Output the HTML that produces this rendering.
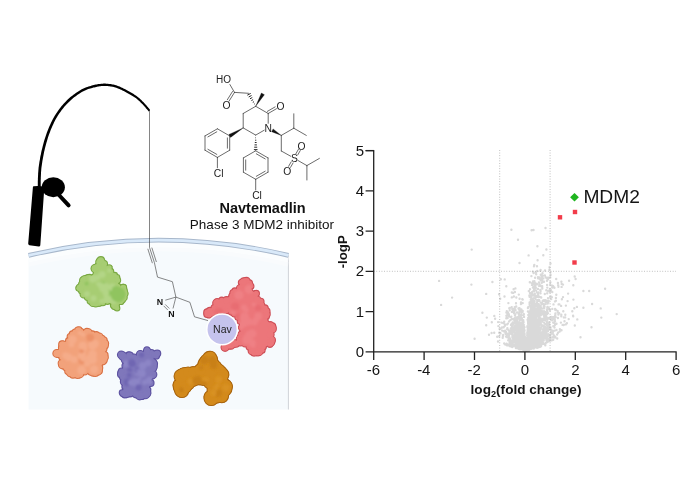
<!DOCTYPE html>
<html><head><meta charset="utf-8"><title>Navtemadlin MDM2 target fishing</title>
<style>
html,body{margin:0;padding:0;background:#fff;}
body{width:700px;height:484px;overflow:hidden;}
svg{display:block;font-family:"Liberation Sans",Arial,Helvetica,sans-serif;}
</style></head><body>
<svg width="700" height="484" viewBox="0 0 700 484">
<rect width="700" height="484" fill="#fff"/>
<path d="M28.6 255.3A570 570 0 0 1 288.4 255.3V409.5H28.6Z" fill="#f6fafd"/>
<path d="M288.4 255.3V409.5" stroke="#cfd3d8" stroke-width="1" fill="none"/>
<path d="M28.6 255.3A570 570 0 0 1 288.4 255.3" stroke="#fff" stroke-width="5" fill="none" opacity="0.6" transform="translate(0 4.6)"/>
<path d="M28.6 255.3A570 570 0 0 1 288.4 255.3" stroke="#fff" stroke-width="5" fill="none" opacity="0.3" transform="translate(0 9)"/>
<path d="M28.6 255.3A570 570 0 0 1 288.4 255.3" stroke="#a7b7cb" stroke-width="4.8" fill="none"/>
<path d="M28.6 255.3A570 570 0 0 1 288.4 255.3" stroke="#d9e9f9" stroke-width="2.9" fill="none"/>
<filter id="bl" x="-20%" y="-20%" width="140%" height="140%"><feGaussianBlur stdDeviation="0.9"/></filter>
<g fill="#79a842" stroke="#79a842" stroke-width="2.2" stroke-linejoin="round"><path d="M100.1 259.6L101.7 259.9L102.4 260.2L103.2 260.9L104.7 262.3L105.5 263.3L105.5 263.5L105.7 264.9L107 266.8L109.6 267.7L111.3 266.6L110.6 266.8L109.9 266.8L110.2 267.1L110.2 267.3L110.5 268.7L111.7 270.7L113 272.3L113.9 273L114.3 273.3L115.5 274.5L117 276.2L117.8 276.8L118 277.1L118.6 278.7L118.8 280.4L118.6 281.4L118.1 283.2L118.9 285.9L121.7 287.5L123.7 286.6L123.9 286.3L123.9 286.5L124.7 287.1L124.7 287.1L124.9 288L125.4 290.2L126 292.4L126.2 293.2L126.2 293.7L125.8 295.8L125.4 297.9L125.2 298.4L124.7 299L123.3 300.7L122.2 302L121.7 302.3L120.6 302.8L119.1 304.2L117.9 306.1L117.9 308L118.1 306.8L117.9 306.9L116.8 307.7L116.5 307.9L116.3 308L115.1 307.9L114 307.7L114.3 307.9L113.9 307.4L112.7 306.2L112.3 305.9L112.3 305.6L111 303.5L108.7 302.8L106.2 302.7L104.5 303.2L103.2 303.8L100.8 304.3L98 304.8L96.7 305.2L96.2 305.3L94.3 305L92.3 304.6L92.2 304.6L91.8 304.1L90.2 302.6L89.1 301.5L88.8 301.1L88.2 300L86.6 298.3L84.8 296.9L83.5 296.4L83.3 296.4L82.4 295.6L81.7 294.6L81.7 294.6L81.5 293.5L80.5 291.5L78.9 289.6L77.8 288.9L78 289.2L77.9 288.3L78.1 287.1L78.2 286.9L79.2 285.7L80.6 283.4L81.5 281L81.5 279.7L81.5 280L82.4 278.9L83.7 277.8L84.1 277.6L85.2 277.3L87.4 276.6L89 276.1L89.8 276.2L91.8 275.9L93.5 274.2L94.2 271.5L93.2 269.7L92.9 269.3L93 268.6L93.4 267.7L93.6 267.6L94.8 266.8L96.4 264.9L97.5 262.9L97.8 261.6L97.8 261.5L98.4 260.7L99.5 259.3L99.6 259L98.7 259.4Z"/><circle cx="99.8" cy="261.3" r="3"/><circle cx="101.2" cy="262.1" r="3.6"/><circle cx="104.1" cy="264" r="2.9"/><circle cx="107.6" cy="268.6" r="2.5"/><circle cx="109.1" cy="267.9" r="2.6"/><circle cx="110.7" cy="271.4" r="2.5"/><circle cx="114.7" cy="275.2" r="2.3"/><circle cx="117" cy="277.4" r="2.3"/><circle cx="117.4" cy="280.3" r="2.7"/><circle cx="117.8" cy="286.6" r="2.7"/><circle cx="123.2" cy="287.7" r="2.8"/><circle cx="123.3" cy="287.7" r="2.8"/><circle cx="124.4" cy="290.5" r="2.4"/><circle cx="124.4" cy="293.5" r="3.2"/><circle cx="123.3" cy="297.4" r="3.4"/><circle cx="122.2" cy="299.8" r="2.7"/><circle cx="120.7" cy="301.2" r="2.8"/><circle cx="117.1" cy="308.3" r="2.2"/><circle cx="115.9" cy="306.4" r="2.9"/><circle cx="114.3" cy="306.8" r="2.2"/><circle cx="113.2" cy="305.6" r="2.2"/><circle cx="107.4" cy="301.6" r="2.4"/><circle cx="102.8" cy="302.7" r="2.5"/><circle cx="99" cy="303.5" r="2.4"/><circle cx="95.7" cy="303.3" r="3.2"/><circle cx="92.9" cy="302.9" r="3.1"/><circle cx="90.5" cy="300.7" r="2.9"/><circle cx="87.5" cy="297.3" r="2.6"/><circle cx="83.8" cy="294.3" r="3.2"/><circle cx="81.3" cy="291.1" r="2.2"/><circle cx="78.6" cy="288.3" r="2.2"/><circle cx="80.2" cy="287.8" r="3.5"/><circle cx="82.5" cy="284.3" r="3.4"/><circle cx="83.3" cy="280.4" r="3.2"/><circle cx="84.9" cy="279.4" r="3.3"/><circle cx="87.7" cy="277.6" r="2.4"/><circle cx="89.6" cy="278.2" r="3.3"/><circle cx="95" cy="268.4" r="3.4"/><circle cx="95.3" cy="268.8" r="3.4"/><circle cx="97.3" cy="267.4" r="3.5"/><circle cx="99" cy="262.2" r="2.7"/><circle cx="100.9" cy="260.2" r="3"/></g>
<g fill="#a7cd73"><path d="M100.1 259.6L101.7 259.9L102.4 260.2L103.2 260.9L104.7 262.3L105.5 263.3L105.5 263.5L105.7 264.9L107 266.8L109.6 267.7L111.3 266.6L110.6 266.8L109.9 266.8L110.2 267.1L110.2 267.3L110.5 268.7L111.7 270.7L113 272.3L113.9 273L114.3 273.3L115.5 274.5L117 276.2L117.8 276.8L118 277.1L118.6 278.7L118.8 280.4L118.6 281.4L118.1 283.2L118.9 285.9L121.7 287.5L123.7 286.6L123.9 286.3L123.9 286.5L124.7 287.1L124.7 287.1L124.9 288L125.4 290.2L126 292.4L126.2 293.2L126.2 293.7L125.8 295.8L125.4 297.9L125.2 298.4L124.7 299L123.3 300.7L122.2 302L121.7 302.3L120.6 302.8L119.1 304.2L117.9 306.1L117.9 308L118.1 306.8L117.9 306.9L116.8 307.7L116.5 307.9L116.3 308L115.1 307.9L114 307.7L114.3 307.9L113.9 307.4L112.7 306.2L112.3 305.9L112.3 305.6L111 303.5L108.7 302.8L106.2 302.7L104.5 303.2L103.2 303.8L100.8 304.3L98 304.8L96.7 305.2L96.2 305.3L94.3 305L92.3 304.6L92.2 304.6L91.8 304.1L90.2 302.6L89.1 301.5L88.8 301.1L88.2 300L86.6 298.3L84.8 296.9L83.5 296.4L83.3 296.4L82.4 295.6L81.7 294.6L81.7 294.6L81.5 293.5L80.5 291.5L78.9 289.6L77.8 288.9L78 289.2L77.9 288.3L78.1 287.1L78.2 286.9L79.2 285.7L80.6 283.4L81.5 281L81.5 279.7L81.5 280L82.4 278.9L83.7 277.8L84.1 277.6L85.2 277.3L87.4 276.6L89 276.1L89.8 276.2L91.8 275.9L93.5 274.2L94.2 271.5L93.2 269.7L92.9 269.3L93 268.6L93.4 267.7L93.6 267.6L94.8 266.8L96.4 264.9L97.5 262.9L97.8 261.6L97.8 261.5L98.4 260.7L99.5 259.3L99.6 259L98.7 259.4Z"/><circle cx="99.8" cy="261.3" r="3"/><circle cx="101.2" cy="262.1" r="3.6"/><circle cx="104.1" cy="264" r="2.9"/><circle cx="107.6" cy="268.6" r="2.5"/><circle cx="109.1" cy="267.9" r="2.6"/><circle cx="110.7" cy="271.4" r="2.5"/><circle cx="114.7" cy="275.2" r="2.3"/><circle cx="117" cy="277.4" r="2.3"/><circle cx="117.4" cy="280.3" r="2.7"/><circle cx="117.8" cy="286.6" r="2.7"/><circle cx="123.2" cy="287.7" r="2.8"/><circle cx="123.3" cy="287.7" r="2.8"/><circle cx="124.4" cy="290.5" r="2.4"/><circle cx="124.4" cy="293.5" r="3.2"/><circle cx="123.3" cy="297.4" r="3.4"/><circle cx="122.2" cy="299.8" r="2.7"/><circle cx="120.7" cy="301.2" r="2.8"/><circle cx="117.1" cy="308.3" r="2.2"/><circle cx="115.9" cy="306.4" r="2.9"/><circle cx="114.3" cy="306.8" r="2.2"/><circle cx="113.2" cy="305.6" r="2.2"/><circle cx="107.4" cy="301.6" r="2.4"/><circle cx="102.8" cy="302.7" r="2.5"/><circle cx="99" cy="303.5" r="2.4"/><circle cx="95.7" cy="303.3" r="3.2"/><circle cx="92.9" cy="302.9" r="3.1"/><circle cx="90.5" cy="300.7" r="2.9"/><circle cx="87.5" cy="297.3" r="2.6"/><circle cx="83.8" cy="294.3" r="3.2"/><circle cx="81.3" cy="291.1" r="2.2"/><circle cx="78.6" cy="288.3" r="2.2"/><circle cx="80.2" cy="287.8" r="3.5"/><circle cx="82.5" cy="284.3" r="3.4"/><circle cx="83.3" cy="280.4" r="3.2"/><circle cx="84.9" cy="279.4" r="3.3"/><circle cx="87.7" cy="277.6" r="2.4"/><circle cx="89.6" cy="278.2" r="3.3"/><circle cx="95" cy="268.4" r="3.4"/><circle cx="95.3" cy="268.8" r="3.4"/><circle cx="97.3" cy="267.4" r="3.5"/><circle cx="99" cy="262.2" r="2.7"/><circle cx="100.9" cy="260.2" r="3"/></g>
<clipPath id="c9"><path d="M100.1 259.6L101.7 259.9L102.4 260.2L103.2 260.9L104.7 262.3L105.5 263.3L105.5 263.5L105.7 264.9L107 266.8L109.6 267.7L111.3 266.6L110.6 266.8L109.9 266.8L110.2 267.1L110.2 267.3L110.5 268.7L111.7 270.7L113 272.3L113.9 273L114.3 273.3L115.5 274.5L117 276.2L117.8 276.8L118 277.1L118.6 278.7L118.8 280.4L118.6 281.4L118.1 283.2L118.9 285.9L121.7 287.5L123.7 286.6L123.9 286.3L123.9 286.5L124.7 287.1L124.7 287.1L124.9 288L125.4 290.2L126 292.4L126.2 293.2L126.2 293.7L125.8 295.8L125.4 297.9L125.2 298.4L124.7 299L123.3 300.7L122.2 302L121.7 302.3L120.6 302.8L119.1 304.2L117.9 306.1L117.9 308L118.1 306.8L117.9 306.9L116.8 307.7L116.5 307.9L116.3 308L115.1 307.9L114 307.7L114.3 307.9L113.9 307.4L112.7 306.2L112.3 305.9L112.3 305.6L111 303.5L108.7 302.8L106.2 302.7L104.5 303.2L103.2 303.8L100.8 304.3L98 304.8L96.7 305.2L96.2 305.3L94.3 305L92.3 304.6L92.2 304.6L91.8 304.1L90.2 302.6L89.1 301.5L88.8 301.1L88.2 300L86.6 298.3L84.8 296.9L83.5 296.4L83.3 296.4L82.4 295.6L81.7 294.6L81.7 294.6L81.5 293.5L80.5 291.5L78.9 289.6L77.8 288.9L78 289.2L77.9 288.3L78.1 287.1L78.2 286.9L79.2 285.7L80.6 283.4L81.5 281L81.5 279.7L81.5 280L82.4 278.9L83.7 277.8L84.1 277.6L85.2 277.3L87.4 276.6L89 276.1L89.8 276.2L91.8 275.9L93.5 274.2L94.2 271.5L93.2 269.7L92.9 269.3L93 268.6L93.4 267.7L93.6 267.6L94.8 266.8L96.4 264.9L97.5 262.9L97.8 261.6L97.8 261.5L98.4 260.7L99.5 259.3L99.6 259L98.7 259.4Z"/></clipPath>
<g clip-path="url(#c9)"><g filter="url(#bl)"><circle cx="86.6" cy="283.6" r="1.9" fill="#90c45f"/><circle cx="109.9" cy="293.3" r="3.5" fill="#90c45f"/><circle cx="113.9" cy="301" r="3.1" fill="#b3d586"/><circle cx="98.5" cy="284" r="2.3" fill="#b3d586"/><circle cx="103.2" cy="285" r="3.2" fill="#90c45f"/><circle cx="112" cy="298.3" r="3.4" fill="#b3d586"/><circle cx="101.7" cy="301.2" r="2.3" fill="#b3d586"/><circle cx="112.2" cy="287.2" r="3.8" fill="#b3d586"/><circle cx="109.2" cy="270.6" r="2.2" fill="#b3d586"/><circle cx="105.7" cy="286.8" r="3.8" fill="#b3d586"/><circle cx="107.2" cy="300.6" r="3.6" fill="#b3d586"/><circle cx="97.5" cy="277.4" r="2.9" fill="#b3d586"/><circle cx="108.7" cy="300.8" r="2.3" fill="#b3d586"/><circle cx="103" cy="288.6" r="3.7" fill="#b3d586"/><circle cx="101.8" cy="286.5" r="2.9" fill="#b3d586"/><circle cx="105.8" cy="292.7" r="3.4" fill="#b3d586"/><circle cx="93.5" cy="298.3" r="3.1" fill="#b3d586"/><circle cx="102.1" cy="274.4" r="3.5" fill="#b3d586"/><circle cx="104.2" cy="289.3" r="2.6" fill="#b3d586"/><circle cx="87" cy="293.9" r="3" fill="#b3d586"/><circle cx="92.9" cy="278.7" r="3.9" fill="#b3d586"/><circle cx="100.8" cy="285.4" r="3" fill="#b3d586"/><circle cx="118" cy="294.5" r="7.5" fill="#90c45f"/><circle cx="116" cy="290" r="4" fill="#90c45f"/><circle cx="107" cy="298.5" r="3.5" fill="#b3d586"/></g></g>
<g fill="#d97144" stroke="#d97144" stroke-width="2.2" stroke-linejoin="round"><path d="M79.1 328.6L79.8 328.6L79.4 328.4L80.4 329.7L82.8 330.7L85.2 330.9L86.6 330.4L86.8 330.3L87.9 330.4L89.2 330.8L89.4 331L90.5 331.8L92.7 332.8L95 333.4L96.3 333.5L96.7 333.6L98.3 334.2L100.1 335.1L100.7 335.4L101.3 335.9L102.8 337.5L104.6 338.9L105.2 339.3L105.2 339.5L105.9 341.1L106.6 342.8L106.8 343.2L106.7 343.9L106.5 345.8L106.3 346.8L106.4 346.6L105.4 348L105 350.4L105.4 352.8L106.1 354.2L106.3 354.6L106.5 356.2L106.5 358.2L106.5 358.6L106.2 359.1L105.3 360.9L104.5 362.1L104.2 362.3L102.9 363.3L101.6 365.4L100.9 367.8L101.3 369.5L101.3 369.4L100.9 370.4L100 372.1L99.7 372.6L99.3 372.9L97.5 373.8L95.9 374.6L95.7 374.6L95.1 374.5L92.9 374.3L91.5 374L91.1 373.7L89.3 372.8L86.6 372.8L84.1 373.5L82.5 374.6L82 375.2L80.4 375.8L78.5 376.5L78 376.6L77.5 376.6L75.5 376.4L73.4 376.3L72.7 376.3L72.3 376.1L70.5 375.2L68.8 374.3L68.4 374.2L68.1 373.7L66.9 372.2L65.9 370.8L65.7 370.3L65.3 369.1L64 367.1L62.2 365.3L60.9 364.7L61 364.8L60.7 364.2L60.6 363.6L60.8 363.4L61.7 361.7L61.4 359L59.9 356.9L58.1 356.3L58.1 356.4L57.6 355.7L56.6 354.1L56.2 353.4L56.2 353L56.4 351.6L56.6 351L56.3 351.3L57.9 350.6L59.8 348.6L60.9 346.1L61 344.5L61 344.1L61.7 343.1L62.3 342.6L62.3 342.7L64.3 342.6L66.7 341L68.3 338.9L68.8 337.1L68.9 336.5L69.8 335L71.1 333.3L71.6 332.9L72.3 332.4L74.4 331.1L76.4 329.6L77.3 328.9L77.6 328.8Z"/><circle cx="79.1" cy="329.7" r="2.4"/><circle cx="81.1" cy="331.4" r="2.4"/><circle cx="86.9" cy="332" r="3.1"/><circle cx="88.5" cy="332.4" r="3.1"/><circle cx="92.4" cy="333.7" r="2.3"/><circle cx="96.3" cy="335.3" r="3.1"/><circle cx="99.2" cy="337" r="3.4"/><circle cx="101.9" cy="338.5" r="2.7"/><circle cx="104.2" cy="339.9" r="2.4"/><circle cx="104.9" cy="343.4" r="3.2"/><circle cx="105" cy="345.6" r="2.8"/><circle cx="103.9" cy="348.9" r="2.5"/><circle cx="105.1" cy="354.7" r="2.4"/><circle cx="104.7" cy="357.4" r="3.1"/><circle cx="104.2" cy="360.3" r="2.5"/><circle cx="102.9" cy="361.6" r="2.7"/><circle cx="99.3" cy="367.8" r="2.9"/><circle cx="99.1" cy="370.7" r="2.8"/><circle cx="97.6" cy="371.3" r="3.5"/><circle cx="95.4" cy="373.5" r="2.5"/><circle cx="93.1" cy="372.5" r="3.1"/><circle cx="91.1" cy="371.7" r="3"/><circle cx="84.8" cy="371.3" r="3.1"/><circle cx="79.8" cy="373.9" r="3.4"/><circle cx="77.6" cy="375" r="2.9"/><circle cx="73" cy="374.8" r="2.8"/><circle cx="70.4" cy="372.8" r="3.4"/><circle cx="68" cy="371.3" r="2.7"/><circle cx="66.2" cy="367.3" r="3"/><circle cx="61.8" cy="363.2" r="3.1"/><circle cx="62.6" cy="364.7" r="3.6"/><circle cx="62.1" cy="357.1" r="2.8"/><circle cx="58.9" cy="353.6" r="3.5"/><circle cx="57.2" cy="353.1" r="2.3"/><circle cx="56.8" cy="353.4" r="3.4"/><circle cx="61.6" cy="347.8" r="2.6"/><circle cx="63" cy="345" r="3.5"/><circle cx="62.1" cy="344.2" r="2.8"/><circle cx="68.6" cy="340.7" r="2.5"/><circle cx="70.1" cy="336.5" r="2.4"/><circle cx="72.3" cy="333.9" r="2.5"/><circle cx="75.2" cy="332.3" r="2.7"/><circle cx="77.7" cy="330" r="2.4"/></g>
<g fill="#f2a27b"><path d="M79.1 328.6L79.8 328.6L79.4 328.4L80.4 329.7L82.8 330.7L85.2 330.9L86.6 330.4L86.8 330.3L87.9 330.4L89.2 330.8L89.4 331L90.5 331.8L92.7 332.8L95 333.4L96.3 333.5L96.7 333.6L98.3 334.2L100.1 335.1L100.7 335.4L101.3 335.9L102.8 337.5L104.6 338.9L105.2 339.3L105.2 339.5L105.9 341.1L106.6 342.8L106.8 343.2L106.7 343.9L106.5 345.8L106.3 346.8L106.4 346.6L105.4 348L105 350.4L105.4 352.8L106.1 354.2L106.3 354.6L106.5 356.2L106.5 358.2L106.5 358.6L106.2 359.1L105.3 360.9L104.5 362.1L104.2 362.3L102.9 363.3L101.6 365.4L100.9 367.8L101.3 369.5L101.3 369.4L100.9 370.4L100 372.1L99.7 372.6L99.3 372.9L97.5 373.8L95.9 374.6L95.7 374.6L95.1 374.5L92.9 374.3L91.5 374L91.1 373.7L89.3 372.8L86.6 372.8L84.1 373.5L82.5 374.6L82 375.2L80.4 375.8L78.5 376.5L78 376.6L77.5 376.6L75.5 376.4L73.4 376.3L72.7 376.3L72.3 376.1L70.5 375.2L68.8 374.3L68.4 374.2L68.1 373.7L66.9 372.2L65.9 370.8L65.7 370.3L65.3 369.1L64 367.1L62.2 365.3L60.9 364.7L61 364.8L60.7 364.2L60.6 363.6L60.8 363.4L61.7 361.7L61.4 359L59.9 356.9L58.1 356.3L58.1 356.4L57.6 355.7L56.6 354.1L56.2 353.4L56.2 353L56.4 351.6L56.6 351L56.3 351.3L57.9 350.6L59.8 348.6L60.9 346.1L61 344.5L61 344.1L61.7 343.1L62.3 342.6L62.3 342.7L64.3 342.6L66.7 341L68.3 338.9L68.8 337.1L68.9 336.5L69.8 335L71.1 333.3L71.6 332.9L72.3 332.4L74.4 331.1L76.4 329.6L77.3 328.9L77.6 328.8Z"/><circle cx="79.1" cy="329.7" r="2.4"/><circle cx="81.1" cy="331.4" r="2.4"/><circle cx="86.9" cy="332" r="3.1"/><circle cx="88.5" cy="332.4" r="3.1"/><circle cx="92.4" cy="333.7" r="2.3"/><circle cx="96.3" cy="335.3" r="3.1"/><circle cx="99.2" cy="337" r="3.4"/><circle cx="101.9" cy="338.5" r="2.7"/><circle cx="104.2" cy="339.9" r="2.4"/><circle cx="104.9" cy="343.4" r="3.2"/><circle cx="105" cy="345.6" r="2.8"/><circle cx="103.9" cy="348.9" r="2.5"/><circle cx="105.1" cy="354.7" r="2.4"/><circle cx="104.7" cy="357.4" r="3.1"/><circle cx="104.2" cy="360.3" r="2.5"/><circle cx="102.9" cy="361.6" r="2.7"/><circle cx="99.3" cy="367.8" r="2.9"/><circle cx="99.1" cy="370.7" r="2.8"/><circle cx="97.6" cy="371.3" r="3.5"/><circle cx="95.4" cy="373.5" r="2.5"/><circle cx="93.1" cy="372.5" r="3.1"/><circle cx="91.1" cy="371.7" r="3"/><circle cx="84.8" cy="371.3" r="3.1"/><circle cx="79.8" cy="373.9" r="3.4"/><circle cx="77.6" cy="375" r="2.9"/><circle cx="73" cy="374.8" r="2.8"/><circle cx="70.4" cy="372.8" r="3.4"/><circle cx="68" cy="371.3" r="2.7"/><circle cx="66.2" cy="367.3" r="3"/><circle cx="61.8" cy="363.2" r="3.1"/><circle cx="62.6" cy="364.7" r="3.6"/><circle cx="62.1" cy="357.1" r="2.8"/><circle cx="58.9" cy="353.6" r="3.5"/><circle cx="57.2" cy="353.1" r="2.3"/><circle cx="56.8" cy="353.4" r="3.4"/><circle cx="61.6" cy="347.8" r="2.6"/><circle cx="63" cy="345" r="3.5"/><circle cx="62.1" cy="344.2" r="2.8"/><circle cx="68.6" cy="340.7" r="2.5"/><circle cx="70.1" cy="336.5" r="2.4"/><circle cx="72.3" cy="333.9" r="2.5"/><circle cx="75.2" cy="332.3" r="2.7"/><circle cx="77.7" cy="330" r="2.4"/></g>
<clipPath id="c13"><path d="M79.1 328.6L79.8 328.6L79.4 328.4L80.4 329.7L82.8 330.7L85.2 330.9L86.6 330.4L86.8 330.3L87.9 330.4L89.2 330.8L89.4 331L90.5 331.8L92.7 332.8L95 333.4L96.3 333.5L96.7 333.6L98.3 334.2L100.1 335.1L100.7 335.4L101.3 335.9L102.8 337.5L104.6 338.9L105.2 339.3L105.2 339.5L105.9 341.1L106.6 342.8L106.8 343.2L106.7 343.9L106.5 345.8L106.3 346.8L106.4 346.6L105.4 348L105 350.4L105.4 352.8L106.1 354.2L106.3 354.6L106.5 356.2L106.5 358.2L106.5 358.6L106.2 359.1L105.3 360.9L104.5 362.1L104.2 362.3L102.9 363.3L101.6 365.4L100.9 367.8L101.3 369.5L101.3 369.4L100.9 370.4L100 372.1L99.7 372.6L99.3 372.9L97.5 373.8L95.9 374.6L95.7 374.6L95.1 374.5L92.9 374.3L91.5 374L91.1 373.7L89.3 372.8L86.6 372.8L84.1 373.5L82.5 374.6L82 375.2L80.4 375.8L78.5 376.5L78 376.6L77.5 376.6L75.5 376.4L73.4 376.3L72.7 376.3L72.3 376.1L70.5 375.2L68.8 374.3L68.4 374.2L68.1 373.7L66.9 372.2L65.9 370.8L65.7 370.3L65.3 369.1L64 367.1L62.2 365.3L60.9 364.7L61 364.8L60.7 364.2L60.6 363.6L60.8 363.4L61.7 361.7L61.4 359L59.9 356.9L58.1 356.3L58.1 356.4L57.6 355.7L56.6 354.1L56.2 353.4L56.2 353L56.4 351.6L56.6 351L56.3 351.3L57.9 350.6L59.8 348.6L60.9 346.1L61 344.5L61 344.1L61.7 343.1L62.3 342.6L62.3 342.7L64.3 342.6L66.7 341L68.3 338.9L68.8 337.1L68.9 336.5L69.8 335L71.1 333.3L71.6 332.9L72.3 332.4L74.4 331.1L76.4 329.6L77.3 328.9L77.6 328.8Z"/></clipPath>
<g clip-path="url(#c13)"><g filter="url(#bl)"><circle cx="83.1" cy="334.6" r="2.2" fill="#f5ac89"/><circle cx="71.4" cy="344.4" r="2.8" fill="#f5ac89"/><circle cx="92.7" cy="345.2" r="4.5" fill="#f5ac89"/><circle cx="81.6" cy="370.2" r="4.4" fill="#f5ac89"/><circle cx="82.7" cy="348.1" r="4.2" fill="#f5ac89"/><circle cx="94.1" cy="369.5" r="4.2" fill="#f5ac89"/><circle cx="81.9" cy="348.3" r="2.4" fill="#ec9269"/><circle cx="82.2" cy="360.4" r="3.7" fill="#ec9269"/><circle cx="65.5" cy="355.6" r="3.3" fill="#f5ac89"/><circle cx="92.5" cy="359.5" r="4.5" fill="#f5ac89"/><circle cx="68.6" cy="357.2" r="3.8" fill="#f5ac89"/><circle cx="83.6" cy="358.2" r="3.3" fill="#f5ac89"/><circle cx="72.4" cy="339.5" r="4.3" fill="#f5ac89"/><circle cx="87.1" cy="363.6" r="3.2" fill="#f5ac89"/><circle cx="94.7" cy="343.6" r="4.2" fill="#f5ac89"/><circle cx="92.6" cy="354.4" r="4.4" fill="#f5ac89"/><circle cx="74.2" cy="359.6" r="3.5" fill="#f5ac89"/><circle cx="90.8" cy="358.4" r="4.3" fill="#f5ac89"/><circle cx="65" cy="355.7" r="2" fill="#f5ac89"/><circle cx="81.5" cy="355.4" r="3.6" fill="#f5ac89"/><circle cx="90.2" cy="337.6" r="3.9" fill="#ec9269"/><circle cx="73" cy="340.4" r="2.2" fill="#f5ac89"/><circle cx="83.5" cy="354" r="2.4" fill="#f5ac89"/><circle cx="79.8" cy="332.9" r="2.1" fill="#f5ac89"/><circle cx="81.6" cy="350.9" r="2.4" fill="#ec9269"/><circle cx="82.8" cy="345.8" r="4" fill="#f5ac89"/></g></g>
<g fill="#5d52a0" stroke="#5d52a0" stroke-width="2.2" stroke-linejoin="round"><path d="M121.9 354.2L121.9 354.1L121.5 354L122.9 354.8L125.4 355.2L127.7 354.5L128.8 353.6L128.5 353.7L129.4 353.7L130.6 354L131.3 354.5L132.9 355.5L135.5 355.9L138 355L139 353L139 352.8L139.2 352.8L139.7 352.6L139.7 352.6L141.4 352.8L143.6 352L145.6 350.4L146.4 348.9L146.4 348.6L146.6 348.6L146.7 348.5L146.1 348.2L146.9 349.3L148.9 350.6L150.6 351.3L151.6 351.4L151.9 351.5L153.3 352.1L155.1 352.9L156.1 353.2L156.4 353.4L157.1 354.3L157.7 355.2L157.7 354.8L157.7 354.5L157.1 355.4L157.5 355.2L157.2 355.1L155.1 355.3L153.5 357.8L153.8 360.2L154.8 361.5L155.3 362.1L155.7 363.5L155.9 365.3L155.9 365.9L155.6 366.5L155 368.3L154.6 369.2L154.7 369.1L153.5 370.2L152.8 372.2L152.8 374.5L153.4 375.9L153.6 376.1L153.5 376.5L153.5 376.7L153.7 376.5L152.4 377.3L151.4 379.4L151.4 381.7L152.3 382.9L152.2 382.6L152.1 382.8L152 383.1L151.8 383.2L150.4 384.2L149.3 386.3L148.8 388.6L149.2 390.1L149.3 390.4L149.2 391.7L148.9 393.7L148.8 394.4L148.7 394.5L147.6 395.6L146.5 396.7L146.4 396.7L145.6 396.8L143.5 397.3L141.5 397.9L140.9 398.2L140.8 398.2L139.3 398L138.2 397.7L138.2 397.7L137.3 396.8L135.4 395.9L133.8 395.4L132.8 395.1L131.7 395L130.2 395L128.3 395.3L127.1 395.7L127.1 395.8L126.1 395.8L124.4 395.7L124 395.7L124 395.7L123 394.8L121.8 393.8L121.6 393.6L121.6 393.5L121.5 392.2L121.6 391.7L121.7 391.7L123 390.4L123.7 388L123.7 385.7L123.1 384.2L122.6 383.4L122.2 382.2L122 380.9L122 380.5L121.9 379.3L121.4 377.6L120.3 375.7L119.2 374.8L119.5 375.2L119.4 374.5L119.3 373.2L119.3 373L119.7 372.3L120.6 370.7L121.1 369.9L121.2 369.9L122.8 368.8L123.7 366.6L124 364.5L123.9 362.7L123.5 361.3L122.9 359.6L121.8 357.4L120.4 356.4L120.8 356.9L120.8 356.6L120.9 355.2L120.9 354.8L121 354.8Z"/><circle cx="122.9" cy="356.2" r="3.6"/><circle cx="123.9" cy="357" r="3.2"/><circle cx="128.7" cy="354.9" r="2.5"/><circle cx="129.8" cy="355.6" r="3"/><circle cx="134" cy="357.3" r="2.7"/><circle cx="140.3" cy="354.5" r="3.4"/><circle cx="140.3" cy="353.8" r="2.3"/><circle cx="147.2" cy="351.6" r="3.4"/><circle cx="146.9" cy="349.8" r="2.5"/><circle cx="147.2" cy="350.9" r="2.4"/><circle cx="151.5" cy="352.6" r="2.5"/><circle cx="154.5" cy="354.7" r="3.2"/><circle cx="156.2" cy="355.7" r="2.8"/><circle cx="157.2" cy="353.6" r="3"/><circle cx="153.4" cy="361.8" r="2.5"/><circle cx="154" cy="363.8" r="3"/><circle cx="153.7" cy="366.7" r="3.1"/><circle cx="153.4" cy="368.4" r="2.6"/><circle cx="152" cy="375.9" r="2.5"/><circle cx="152.9" cy="374.5" r="3.4"/><circle cx="150.6" cy="382.9" r="2.9"/><circle cx="149.4" cy="383.3" r="2.6"/><circle cx="147.9" cy="389.8" r="2.4"/><circle cx="147.7" cy="392.6" r="2.6"/><circle cx="146.7" cy="393.4" r="3.5"/><circle cx="145.5" cy="394.9" r="3.3"/><circle cx="142" cy="396.7" r="2.3"/><circle cx="139.7" cy="395.7" r="3.6"/><circle cx="135.9" cy="394.3" r="3"/><circle cx="130.2" cy="393.1" r="3.2"/><circle cx="126.8" cy="394.1" r="3"/><circle cx="124.9" cy="394.5" r="2.8"/><circle cx="123.1" cy="393.3" r="2.8"/><circle cx="122.1" cy="392.6" r="2.3"/><circle cx="124.7" cy="386.7" r="2.3"/><circle cx="124.3" cy="381.7" r="3.4"/><circle cx="123" cy="377" r="3"/><circle cx="120.6" cy="374.4" r="2.5"/><circle cx="121.2" cy="373.2" r="3"/><circle cx="121.6" cy="371.3" r="2.7"/><circle cx="125.2" cy="365.7" r="2.7"/><circle cx="125" cy="360" r="3.1"/><circle cx="121.2" cy="354.8" r="3.2"/><circle cx="122.4" cy="355.5" r="3"/></g>
<g fill="#7f77bb"><path d="M121.9 354.2L121.9 354.1L121.5 354L122.9 354.8L125.4 355.2L127.7 354.5L128.8 353.6L128.5 353.7L129.4 353.7L130.6 354L131.3 354.5L132.9 355.5L135.5 355.9L138 355L139 353L139 352.8L139.2 352.8L139.7 352.6L139.7 352.6L141.4 352.8L143.6 352L145.6 350.4L146.4 348.9L146.4 348.6L146.6 348.6L146.7 348.5L146.1 348.2L146.9 349.3L148.9 350.6L150.6 351.3L151.6 351.4L151.9 351.5L153.3 352.1L155.1 352.9L156.1 353.2L156.4 353.4L157.1 354.3L157.7 355.2L157.7 354.8L157.7 354.5L157.1 355.4L157.5 355.2L157.2 355.1L155.1 355.3L153.5 357.8L153.8 360.2L154.8 361.5L155.3 362.1L155.7 363.5L155.9 365.3L155.9 365.9L155.6 366.5L155 368.3L154.6 369.2L154.7 369.1L153.5 370.2L152.8 372.2L152.8 374.5L153.4 375.9L153.6 376.1L153.5 376.5L153.5 376.7L153.7 376.5L152.4 377.3L151.4 379.4L151.4 381.7L152.3 382.9L152.2 382.6L152.1 382.8L152 383.1L151.8 383.2L150.4 384.2L149.3 386.3L148.8 388.6L149.2 390.1L149.3 390.4L149.2 391.7L148.9 393.7L148.8 394.4L148.7 394.5L147.6 395.6L146.5 396.7L146.4 396.7L145.6 396.8L143.5 397.3L141.5 397.9L140.9 398.2L140.8 398.2L139.3 398L138.2 397.7L138.2 397.7L137.3 396.8L135.4 395.9L133.8 395.4L132.8 395.1L131.7 395L130.2 395L128.3 395.3L127.1 395.7L127.1 395.8L126.1 395.8L124.4 395.7L124 395.7L124 395.7L123 394.8L121.8 393.8L121.6 393.6L121.6 393.5L121.5 392.2L121.6 391.7L121.7 391.7L123 390.4L123.7 388L123.7 385.7L123.1 384.2L122.6 383.4L122.2 382.2L122 380.9L122 380.5L121.9 379.3L121.4 377.6L120.3 375.7L119.2 374.8L119.5 375.2L119.4 374.5L119.3 373.2L119.3 373L119.7 372.3L120.6 370.7L121.1 369.9L121.2 369.9L122.8 368.8L123.7 366.6L124 364.5L123.9 362.7L123.5 361.3L122.9 359.6L121.8 357.4L120.4 356.4L120.8 356.9L120.8 356.6L120.9 355.2L120.9 354.8L121 354.8Z"/><circle cx="122.9" cy="356.2" r="3.6"/><circle cx="123.9" cy="357" r="3.2"/><circle cx="128.7" cy="354.9" r="2.5"/><circle cx="129.8" cy="355.6" r="3"/><circle cx="134" cy="357.3" r="2.7"/><circle cx="140.3" cy="354.5" r="3.4"/><circle cx="140.3" cy="353.8" r="2.3"/><circle cx="147.2" cy="351.6" r="3.4"/><circle cx="146.9" cy="349.8" r="2.5"/><circle cx="147.2" cy="350.9" r="2.4"/><circle cx="151.5" cy="352.6" r="2.5"/><circle cx="154.5" cy="354.7" r="3.2"/><circle cx="156.2" cy="355.7" r="2.8"/><circle cx="157.2" cy="353.6" r="3"/><circle cx="153.4" cy="361.8" r="2.5"/><circle cx="154" cy="363.8" r="3"/><circle cx="153.7" cy="366.7" r="3.1"/><circle cx="153.4" cy="368.4" r="2.6"/><circle cx="152" cy="375.9" r="2.5"/><circle cx="152.9" cy="374.5" r="3.4"/><circle cx="150.6" cy="382.9" r="2.9"/><circle cx="149.4" cy="383.3" r="2.6"/><circle cx="147.9" cy="389.8" r="2.4"/><circle cx="147.7" cy="392.6" r="2.6"/><circle cx="146.7" cy="393.4" r="3.5"/><circle cx="145.5" cy="394.9" r="3.3"/><circle cx="142" cy="396.7" r="2.3"/><circle cx="139.7" cy="395.7" r="3.6"/><circle cx="135.9" cy="394.3" r="3"/><circle cx="130.2" cy="393.1" r="3.2"/><circle cx="126.8" cy="394.1" r="3"/><circle cx="124.9" cy="394.5" r="2.8"/><circle cx="123.1" cy="393.3" r="2.8"/><circle cx="122.1" cy="392.6" r="2.3"/><circle cx="124.7" cy="386.7" r="2.3"/><circle cx="124.3" cy="381.7" r="3.4"/><circle cx="123" cy="377" r="3"/><circle cx="120.6" cy="374.4" r="2.5"/><circle cx="121.2" cy="373.2" r="3"/><circle cx="121.6" cy="371.3" r="2.7"/><circle cx="125.2" cy="365.7" r="2.7"/><circle cx="125" cy="360" r="3.1"/><circle cx="121.2" cy="354.8" r="3.2"/><circle cx="122.4" cy="355.5" r="3"/></g>
<clipPath id="c17"><path d="M121.9 354.2L121.9 354.1L121.5 354L122.9 354.8L125.4 355.2L127.7 354.5L128.8 353.6L128.5 353.7L129.4 353.7L130.6 354L131.3 354.5L132.9 355.5L135.5 355.9L138 355L139 353L139 352.8L139.2 352.8L139.7 352.6L139.7 352.6L141.4 352.8L143.6 352L145.6 350.4L146.4 348.9L146.4 348.6L146.6 348.6L146.7 348.5L146.1 348.2L146.9 349.3L148.9 350.6L150.6 351.3L151.6 351.4L151.9 351.5L153.3 352.1L155.1 352.9L156.1 353.2L156.4 353.4L157.1 354.3L157.7 355.2L157.7 354.8L157.7 354.5L157.1 355.4L157.5 355.2L157.2 355.1L155.1 355.3L153.5 357.8L153.8 360.2L154.8 361.5L155.3 362.1L155.7 363.5L155.9 365.3L155.9 365.9L155.6 366.5L155 368.3L154.6 369.2L154.7 369.1L153.5 370.2L152.8 372.2L152.8 374.5L153.4 375.9L153.6 376.1L153.5 376.5L153.5 376.7L153.7 376.5L152.4 377.3L151.4 379.4L151.4 381.7L152.3 382.9L152.2 382.6L152.1 382.8L152 383.1L151.8 383.2L150.4 384.2L149.3 386.3L148.8 388.6L149.2 390.1L149.3 390.4L149.2 391.7L148.9 393.7L148.8 394.4L148.7 394.5L147.6 395.6L146.5 396.7L146.4 396.7L145.6 396.8L143.5 397.3L141.5 397.9L140.9 398.2L140.8 398.2L139.3 398L138.2 397.7L138.2 397.7L137.3 396.8L135.4 395.9L133.8 395.4L132.8 395.1L131.7 395L130.2 395L128.3 395.3L127.1 395.7L127.1 395.8L126.1 395.8L124.4 395.7L124 395.7L124 395.7L123 394.8L121.8 393.8L121.6 393.6L121.6 393.5L121.5 392.2L121.6 391.7L121.7 391.7L123 390.4L123.7 388L123.7 385.7L123.1 384.2L122.6 383.4L122.2 382.2L122 380.9L122 380.5L121.9 379.3L121.4 377.6L120.3 375.7L119.2 374.8L119.5 375.2L119.4 374.5L119.3 373.2L119.3 373L119.7 372.3L120.6 370.7L121.1 369.9L121.2 369.9L122.8 368.8L123.7 366.6L124 364.5L123.9 362.7L123.5 361.3L122.9 359.6L121.8 357.4L120.4 356.4L120.8 356.9L120.8 356.6L120.9 355.2L120.9 354.8L121 354.8Z"/></clipPath>
<g clip-path="url(#c17)"><g filter="url(#bl)"><circle cx="136.6" cy="383.4" r="3.8" fill="#8c85c6"/><circle cx="129.1" cy="375.2" r="2.4" fill="#6f66b2"/><circle cx="130.8" cy="366.4" r="2.8" fill="#8c85c6"/><circle cx="129.7" cy="369.1" r="2.7" fill="#6f66b2"/><circle cx="137" cy="369.7" r="2.5" fill="#6f66b2"/><circle cx="135.2" cy="381.7" r="3.4" fill="#8c85c6"/><circle cx="127.6" cy="382.2" r="3.9" fill="#6f66b2"/><circle cx="137.5" cy="372.4" r="2.3" fill="#8c85c6"/><circle cx="144.7" cy="382.2" r="2.7" fill="#8c85c6"/><circle cx="131.1" cy="382.6" r="3.1" fill="#8c85c6"/><circle cx="150" cy="380.6" r="4" fill="#8c85c6"/><circle cx="126.3" cy="364" r="3.8" fill="#8c85c6"/><circle cx="140.8" cy="374.2" r="2.4" fill="#6f66b2"/><circle cx="141.6" cy="354.8" r="2.6" fill="#6f66b2"/><circle cx="137.8" cy="372.6" r="3.5" fill="#8c85c6"/><circle cx="133.9" cy="362.1" r="2.6" fill="#8c85c6"/><circle cx="149.9" cy="380.5" r="2.9" fill="#8c85c6"/><circle cx="137.1" cy="371.6" r="1.9" fill="#6f66b2"/><circle cx="148.2" cy="362.9" r="3.3" fill="#8c85c6"/><circle cx="142.7" cy="365.9" r="3.8" fill="#8c85c6"/><circle cx="130.1" cy="365.8" r="2" fill="#8c85c6"/><circle cx="141.9" cy="373.3" r="3.9" fill="#8c85c6"/><circle cx="139.6" cy="378.9" r="1.8" fill="#8c85c6"/><circle cx="138.4" cy="372" r="1.9" fill="#8c85c6"/><circle cx="138.6" cy="387.4" r="3.1" fill="#6f66b2"/><circle cx="132" cy="363.2" r="3.9" fill="#6f66b2"/></g></g>
<g fill="#cd4f57" stroke="#cd4f57" stroke-width="2.2" stroke-linejoin="round"><path d="M245.2 279.5L247.2 279.4L247.4 279.4L247.8 279.7L249.4 281.3L250.8 282.7L251.1 283.3L251.3 284.2L251.8 286.2L251.9 287L252 286.7L251.2 288.7L252.3 291L254.4 292.4L256.2 292.6L256.7 292.6L257.1 293L257.4 293.3L257.3 293.3L257 295.1L257.9 297.6L259.5 299.4L261.2 300.1L261.5 300.2L261.9 300.6L262.2 301L262.1 300.5L261.9 302.3L262.8 304.4L264.4 306.2L265.6 306.9L265.8 307L266.7 308.3L267.8 310.2L268.1 311L268.2 311.9L268.4 314.2L268.3 315.8L267.9 316.3L267.1 318.2L267.6 320.9L269.5 323.1L271.5 323.6L272 323.6L272.8 324.3L274 325.8L274.3 326.2L274.3 326.7L274.3 328.8L274.1 330.2L273.9 330.4L272.9 331.8L272.3 334.5L272.5 337.3L273.3 338.8L273.4 338.9L273.3 340.3L273 342.5L272.9 343.2L272.6 343.5L271.1 344.9L270.1 345.5L269.8 345.5L267.9 345.5L265.3 346.8L263.4 348.9L263.1 350.8L263.2 350.8L262.2 351.7L260.5 353.2L259.8 353.8L259 354L256.6 354.2L254.2 354.3L253.5 354.3L252.9 353.9L251.2 352.6L250.3 351.9L250.4 352L250.1 350.1L248.4 347.9L246.8 346.4L245.4 345.4L243.7 344.8L241.4 344.4L239.1 344.1L237.3 344.4L236.2 344.9L234.6 345.5L232.3 346.4L231.2 347.3L231.5 347.2L230.3 347.3L228.4 347.3L227.7 347.1L227.1 346.8L225.6 345.7L223.6 344.6L222.8 344.2L223.1 346.2L223.6 345.9L224.7 345.4L226.5 345.4L229.6 345L233.3 343.4L236.1 341.4L237.7 339.6L238.3 337.9L239.1 335.5L240.1 333.1L240.6 331.4L240.5 329.9L240.2 327.7L240.1 325.3L239.9 323.7L239.2 322L238 319.9L236.8 317.8L235.8 316.4L234.4 315.4L232.3 314.3L230.6 313.1L229.2 312.3L227.3 312L224.4 312L221.1 312.2L218.9 312.6L217.1 313.2L214.1 314L210.8 315.1L209.3 316L209.3 316.1L208.1 316L206.4 315.6L206.3 315.6L206.2 315.3L205.9 313.7L205.6 312.3L205.5 312.6L205.8 312.3L207.3 310.7L208.5 309.6L209.4 309.3L211.1 308.5L213.2 306.7L214.7 304.2L214.7 302.2L214.6 302.5L215.2 301.8L216.4 300.7L216.6 300.5L217.6 300.3L220.1 299.5L222.3 298.9L223.6 298.9L225.8 298.7L228.5 297.2L230.9 295.2L231.6 293.1L231.7 292.4L232.8 291.1L234.3 289.8L235.1 289.5L236.7 288.9L238.7 287.1L240.2 284.7L240.2 282.7L240.1 282.9L240.7 282.2L242.1 280.6L242.7 280L243.2 279.8Z"/><circle cx="245.4" cy="281.8" r="3.5"/><circle cx="246.5" cy="281.1" r="3.2"/><circle cx="249.3" cy="283.1" r="2.7"/><circle cx="249.5" cy="285.6" r="3.3"/><circle cx="251" cy="286.2" r="2.4"/><circle cx="256.2" cy="293.6" r="2.4"/><circle cx="256.1" cy="293.6" r="2.7"/><circle cx="257.1" cy="300" r="3.4"/><circle cx="260.8" cy="301.5" r="2.7"/><circle cx="261.3" cy="305.4" r="3.1"/><circle cx="264.9" cy="308.2" r="2.8"/><circle cx="266.5" cy="311.3" r="3"/><circle cx="267.2" cy="314.2" r="2.5"/><circle cx="266.6" cy="316.5" r="2.3"/><circle cx="270.3" cy="325.5" r="3.3"/><circle cx="272.5" cy="326" r="2.6"/><circle cx="272.1" cy="327.5" r="3.5"/><circle cx="272.2" cy="329" r="3.6"/><circle cx="270.2" cy="334.4" r="3.4"/><circle cx="271.8" cy="339.9" r="3.1"/><circle cx="271.5" cy="341.3" r="3"/><circle cx="270.5" cy="342.5" r="3.5"/><circle cx="269.9" cy="344.3" r="2.5"/><circle cx="263.5" cy="347.1" r="2.3"/><circle cx="262.2" cy="350.3" r="2.4"/><circle cx="259.3" cy="351.9" r="3.1"/><circle cx="257.9" cy="353" r="2.4"/><circle cx="255" cy="352.2" r="3.3"/><circle cx="253.5" cy="353.1" r="2.3"/><circle cx="251.9" cy="350.9" r="3.2"/><circle cx="249.6" cy="346.7" r="3"/><circle cx="245.1" cy="343.2" r="3.2"/><circle cx="240.4" cy="342.1" r="3.4"/><circle cx="233.9" cy="343.5" r="3.4"/><circle cx="231" cy="345.2" r="3.4"/><circle cx="228.3" cy="345.6" r="2.9"/><circle cx="225.3" cy="343.6" r="3"/><circle cx="225.1" cy="347.3" r="3.5"/><circle cx="224.9" cy="347" r="2.9"/><circle cx="229.8" cy="346" r="2.3"/><circle cx="236" cy="343.7" r="3"/><circle cx="240" cy="338.3" r="3.1"/><circle cx="241.3" cy="334.8" r="3"/><circle cx="242" cy="327.6" r="3.1"/><circle cx="240" cy="321.6" r="2.2"/><circle cx="237.9" cy="317.2" r="2.5"/><circle cx="234.2" cy="313.8" r="2.7"/><circle cx="231.1" cy="312.3" r="2.3"/><circle cx="226.1" cy="310.8" r="2.5"/><circle cx="222.5" cy="310" r="3.3"/><circle cx="218.6" cy="311.5" r="2.5"/><circle cx="215.4" cy="312" r="2.9"/><circle cx="211.7" cy="313" r="2.9"/><circle cx="209.2" cy="314.9" r="2.5"/><circle cx="206.7" cy="314.6" r="2.3"/><circle cx="207.3" cy="312.4" r="3"/><circle cx="207.7" cy="312.7" r="3"/><circle cx="209.9" cy="310.8" r="2.9"/><circle cx="214.1" cy="307.5" r="2.5"/><circle cx="216.5" cy="303.1" r="3.3"/><circle cx="217.2" cy="301.6" r="2.6"/><circle cx="221.7" cy="300.1" r="2.4"/><circle cx="226.4" cy="300.5" r="3.3"/><circle cx="232.1" cy="296.1" r="2.8"/><circle cx="233.4" cy="293" r="3"/><circle cx="234.8" cy="290.6" r="2.2"/><circle cx="240.3" cy="288.5" r="3.4"/><circle cx="241.3" cy="282.5" r="2.4"/><circle cx="243" cy="282.6" r="3.3"/><circle cx="243.6" cy="281.6" r="3.2"/></g>
<g fill="#ec767a"><path d="M245.2 279.5L247.2 279.4L247.4 279.4L247.8 279.7L249.4 281.3L250.8 282.7L251.1 283.3L251.3 284.2L251.8 286.2L251.9 287L252 286.7L251.2 288.7L252.3 291L254.4 292.4L256.2 292.6L256.7 292.6L257.1 293L257.4 293.3L257.3 293.3L257 295.1L257.9 297.6L259.5 299.4L261.2 300.1L261.5 300.2L261.9 300.6L262.2 301L262.1 300.5L261.9 302.3L262.8 304.4L264.4 306.2L265.6 306.9L265.8 307L266.7 308.3L267.8 310.2L268.1 311L268.2 311.9L268.4 314.2L268.3 315.8L267.9 316.3L267.1 318.2L267.6 320.9L269.5 323.1L271.5 323.6L272 323.6L272.8 324.3L274 325.8L274.3 326.2L274.3 326.7L274.3 328.8L274.1 330.2L273.9 330.4L272.9 331.8L272.3 334.5L272.5 337.3L273.3 338.8L273.4 338.9L273.3 340.3L273 342.5L272.9 343.2L272.6 343.5L271.1 344.9L270.1 345.5L269.8 345.5L267.9 345.5L265.3 346.8L263.4 348.9L263.1 350.8L263.2 350.8L262.2 351.7L260.5 353.2L259.8 353.8L259 354L256.6 354.2L254.2 354.3L253.5 354.3L252.9 353.9L251.2 352.6L250.3 351.9L250.4 352L250.1 350.1L248.4 347.9L246.8 346.4L245.4 345.4L243.7 344.8L241.4 344.4L239.1 344.1L237.3 344.4L236.2 344.9L234.6 345.5L232.3 346.4L231.2 347.3L231.5 347.2L230.3 347.3L228.4 347.3L227.7 347.1L227.1 346.8L225.6 345.7L223.6 344.6L222.8 344.2L223.1 346.2L223.6 345.9L224.7 345.4L226.5 345.4L229.6 345L233.3 343.4L236.1 341.4L237.7 339.6L238.3 337.9L239.1 335.5L240.1 333.1L240.6 331.4L240.5 329.9L240.2 327.7L240.1 325.3L239.9 323.7L239.2 322L238 319.9L236.8 317.8L235.8 316.4L234.4 315.4L232.3 314.3L230.6 313.1L229.2 312.3L227.3 312L224.4 312L221.1 312.2L218.9 312.6L217.1 313.2L214.1 314L210.8 315.1L209.3 316L209.3 316.1L208.1 316L206.4 315.6L206.3 315.6L206.2 315.3L205.9 313.7L205.6 312.3L205.5 312.6L205.8 312.3L207.3 310.7L208.5 309.6L209.4 309.3L211.1 308.5L213.2 306.7L214.7 304.2L214.7 302.2L214.6 302.5L215.2 301.8L216.4 300.7L216.6 300.5L217.6 300.3L220.1 299.5L222.3 298.9L223.6 298.9L225.8 298.7L228.5 297.2L230.9 295.2L231.6 293.1L231.7 292.4L232.8 291.1L234.3 289.8L235.1 289.5L236.7 288.9L238.7 287.1L240.2 284.7L240.2 282.7L240.1 282.9L240.7 282.2L242.1 280.6L242.7 280L243.2 279.8Z"/><circle cx="245.4" cy="281.8" r="3.5"/><circle cx="246.5" cy="281.1" r="3.2"/><circle cx="249.3" cy="283.1" r="2.7"/><circle cx="249.5" cy="285.6" r="3.3"/><circle cx="251" cy="286.2" r="2.4"/><circle cx="256.2" cy="293.6" r="2.4"/><circle cx="256.1" cy="293.6" r="2.7"/><circle cx="257.1" cy="300" r="3.4"/><circle cx="260.8" cy="301.5" r="2.7"/><circle cx="261.3" cy="305.4" r="3.1"/><circle cx="264.9" cy="308.2" r="2.8"/><circle cx="266.5" cy="311.3" r="3"/><circle cx="267.2" cy="314.2" r="2.5"/><circle cx="266.6" cy="316.5" r="2.3"/><circle cx="270.3" cy="325.5" r="3.3"/><circle cx="272.5" cy="326" r="2.6"/><circle cx="272.1" cy="327.5" r="3.5"/><circle cx="272.2" cy="329" r="3.6"/><circle cx="270.2" cy="334.4" r="3.4"/><circle cx="271.8" cy="339.9" r="3.1"/><circle cx="271.5" cy="341.3" r="3"/><circle cx="270.5" cy="342.5" r="3.5"/><circle cx="269.9" cy="344.3" r="2.5"/><circle cx="263.5" cy="347.1" r="2.3"/><circle cx="262.2" cy="350.3" r="2.4"/><circle cx="259.3" cy="351.9" r="3.1"/><circle cx="257.9" cy="353" r="2.4"/><circle cx="255" cy="352.2" r="3.3"/><circle cx="253.5" cy="353.1" r="2.3"/><circle cx="251.9" cy="350.9" r="3.2"/><circle cx="249.6" cy="346.7" r="3"/><circle cx="245.1" cy="343.2" r="3.2"/><circle cx="240.4" cy="342.1" r="3.4"/><circle cx="233.9" cy="343.5" r="3.4"/><circle cx="231" cy="345.2" r="3.4"/><circle cx="228.3" cy="345.6" r="2.9"/><circle cx="225.3" cy="343.6" r="3"/><circle cx="225.1" cy="347.3" r="3.5"/><circle cx="224.9" cy="347" r="2.9"/><circle cx="229.8" cy="346" r="2.3"/><circle cx="236" cy="343.7" r="3"/><circle cx="240" cy="338.3" r="3.1"/><circle cx="241.3" cy="334.8" r="3"/><circle cx="242" cy="327.6" r="3.1"/><circle cx="240" cy="321.6" r="2.2"/><circle cx="237.9" cy="317.2" r="2.5"/><circle cx="234.2" cy="313.8" r="2.7"/><circle cx="231.1" cy="312.3" r="2.3"/><circle cx="226.1" cy="310.8" r="2.5"/><circle cx="222.5" cy="310" r="3.3"/><circle cx="218.6" cy="311.5" r="2.5"/><circle cx="215.4" cy="312" r="2.9"/><circle cx="211.7" cy="313" r="2.9"/><circle cx="209.2" cy="314.9" r="2.5"/><circle cx="206.7" cy="314.6" r="2.3"/><circle cx="207.3" cy="312.4" r="3"/><circle cx="207.7" cy="312.7" r="3"/><circle cx="209.9" cy="310.8" r="2.9"/><circle cx="214.1" cy="307.5" r="2.5"/><circle cx="216.5" cy="303.1" r="3.3"/><circle cx="217.2" cy="301.6" r="2.6"/><circle cx="221.7" cy="300.1" r="2.4"/><circle cx="226.4" cy="300.5" r="3.3"/><circle cx="232.1" cy="296.1" r="2.8"/><circle cx="233.4" cy="293" r="3"/><circle cx="234.8" cy="290.6" r="2.2"/><circle cx="240.3" cy="288.5" r="3.4"/><circle cx="241.3" cy="282.5" r="2.4"/><circle cx="243" cy="282.6" r="3.3"/><circle cx="243.6" cy="281.6" r="3.2"/></g>
<clipPath id="c21"><path d="M245.2 279.5L247.2 279.4L247.4 279.4L247.8 279.7L249.4 281.3L250.8 282.7L251.1 283.3L251.3 284.2L251.8 286.2L251.9 287L252 286.7L251.2 288.7L252.3 291L254.4 292.4L256.2 292.6L256.7 292.6L257.1 293L257.4 293.3L257.3 293.3L257 295.1L257.9 297.6L259.5 299.4L261.2 300.1L261.5 300.2L261.9 300.6L262.2 301L262.1 300.5L261.9 302.3L262.8 304.4L264.4 306.2L265.6 306.9L265.8 307L266.7 308.3L267.8 310.2L268.1 311L268.2 311.9L268.4 314.2L268.3 315.8L267.9 316.3L267.1 318.2L267.6 320.9L269.5 323.1L271.5 323.6L272 323.6L272.8 324.3L274 325.8L274.3 326.2L274.3 326.7L274.3 328.8L274.1 330.2L273.9 330.4L272.9 331.8L272.3 334.5L272.5 337.3L273.3 338.8L273.4 338.9L273.3 340.3L273 342.5L272.9 343.2L272.6 343.5L271.1 344.9L270.1 345.5L269.8 345.5L267.9 345.5L265.3 346.8L263.4 348.9L263.1 350.8L263.2 350.8L262.2 351.7L260.5 353.2L259.8 353.8L259 354L256.6 354.2L254.2 354.3L253.5 354.3L252.9 353.9L251.2 352.6L250.3 351.9L250.4 352L250.1 350.1L248.4 347.9L246.8 346.4L245.4 345.4L243.7 344.8L241.4 344.4L239.1 344.1L237.3 344.4L236.2 344.9L234.6 345.5L232.3 346.4L231.2 347.3L231.5 347.2L230.3 347.3L228.4 347.3L227.7 347.1L227.1 346.8L225.6 345.7L223.6 344.6L222.8 344.2L223.1 346.2L223.6 345.9L224.7 345.4L226.5 345.4L229.6 345L233.3 343.4L236.1 341.4L237.7 339.6L238.3 337.9L239.1 335.5L240.1 333.1L240.6 331.4L240.5 329.9L240.2 327.7L240.1 325.3L239.9 323.7L239.2 322L238 319.9L236.8 317.8L235.8 316.4L234.4 315.4L232.3 314.3L230.6 313.1L229.2 312.3L227.3 312L224.4 312L221.1 312.2L218.9 312.6L217.1 313.2L214.1 314L210.8 315.1L209.3 316L209.3 316.1L208.1 316L206.4 315.6L206.3 315.6L206.2 315.3L205.9 313.7L205.6 312.3L205.5 312.6L205.8 312.3L207.3 310.7L208.5 309.6L209.4 309.3L211.1 308.5L213.2 306.7L214.7 304.2L214.7 302.2L214.6 302.5L215.2 301.8L216.4 300.7L216.6 300.5L217.6 300.3L220.1 299.5L222.3 298.9L223.6 298.9L225.8 298.7L228.5 297.2L230.9 295.2L231.6 293.1L231.7 292.4L232.8 291.1L234.3 289.8L235.1 289.5L236.7 288.9L238.7 287.1L240.2 284.7L240.2 282.7L240.1 282.9L240.7 282.2L242.1 280.6L242.7 280L243.2 279.8Z"/></clipPath>
<g clip-path="url(#c21)"><g filter="url(#bl)"><circle cx="242" cy="320.8" r="3.4" fill="#e86d72"/><circle cx="249.5" cy="335.2" r="4.4" fill="#ef8084"/><circle cx="252.3" cy="333.5" r="4.3" fill="#ef8084"/><circle cx="249.1" cy="289.3" r="4.5" fill="#ef8084"/><circle cx="244.7" cy="324.2" r="2.9" fill="#ef8084"/><circle cx="234.6" cy="339.5" r="2.3" fill="#ef8084"/><circle cx="256.1" cy="320.4" r="2.7" fill="#ef8084"/><circle cx="218.9" cy="312.5" r="4.5" fill="#e86d72"/><circle cx="247.2" cy="338.8" r="4.5" fill="#ef8084"/><circle cx="240.6" cy="326.3" r="3.4" fill="#ef8084"/><circle cx="253.9" cy="304.5" r="2.1" fill="#ef8084"/><circle cx="238.4" cy="317.6" r="4.1" fill="#e86d72"/><circle cx="245.5" cy="319.2" r="3.9" fill="#ef8084"/><circle cx="233.2" cy="312.3" r="3" fill="#ef8084"/><circle cx="244.5" cy="316.3" r="4.1" fill="#ef8084"/><circle cx="258.1" cy="308.1" r="3" fill="#e86d72"/><circle cx="244.3" cy="317.9" r="4.7" fill="#ef8084"/><circle cx="249.2" cy="288.8" r="3" fill="#ef8084"/><circle cx="235.2" cy="306.6" r="4" fill="#e86d72"/><circle cx="253.1" cy="345.6" r="2.4" fill="#ef8084"/><circle cx="244.1" cy="307.7" r="3.1" fill="#ef8084"/><circle cx="252.1" cy="342.9" r="3.7" fill="#ef8084"/><circle cx="259" cy="307.4" r="2.2" fill="#e86d72"/><circle cx="258.2" cy="316.2" r="3.8" fill="#ef8084"/><circle cx="246.3" cy="310.2" r="2.4" fill="#ef8084"/><circle cx="254.4" cy="322" r="3.4" fill="#ef8084"/><circle cx="243.4" cy="319.3" r="3.3" fill="#ef8084"/><circle cx="249.4" cy="320.4" r="2.1" fill="#ef8084"/><circle cx="249" cy="322.3" r="3.3" fill="#ef8084"/><circle cx="246" cy="340.6" r="3.7" fill="#ef8084"/><circle cx="239" cy="294.9" r="4.6" fill="#ef8084"/><circle cx="241.7" cy="323.6" r="2.6" fill="#ef8084"/></g></g>
<g fill="#a9650f" stroke="#a9650f" stroke-width="2.2" stroke-linejoin="round"><path d="M210.7 353.7L212.6 353.7L213 353.7L213.3 354L214.5 355.3L215.2 356.2L215.2 356.4L215.3 357.7L216.3 359.8L217.4 361.5L218.2 362.4L219 363.1L220.5 364.7L222.2 366.4L223.2 367.1L223.8 367.7L225.1 369.3L226.5 371.1L227 371.8L227.2 372.4L227.6 374.1L227.6 375.3L227.5 375.5L226.7 376.8L226.9 379L227.9 381L229 381.9L229.6 382.3L230.3 383.8L231.1 385.7L231.3 386.4L231.3 387.1L230.9 389.1L230.5 390.9L230.3 391.3L229.6 392.1L228.4 394.2L227.5 396.4L227.2 397.6L227.1 398L225.9 399.2L224.7 400.2L224.3 400.3L223.3 400.4L221.1 400.9L219.2 401.5L218.4 401.8L217.8 401.9L215.9 402.2L213.8 402.5L212.9 402.7L212.2 402.6L210.3 402.2L208.3 401.7L207.6 401.6L207.3 401.3L206.4 400L205.5 398.8L205.4 398.7L205.6 398.1L205.9 396.3L206.3 395L206.7 394.5L207.5 393.4L208 391.5L208.1 389.9L208 388.6L207.3 387.5L206.3 386.5L205.3 385.3L204.3 384.6L203.1 384.3L201.5 384L199.9 383.8L198.7 383.8L197.6 384.2L196.1 384.8L194.7 385.3L193.8 385.8L193.1 386.4L191.7 387.7L190.1 389.2L189.3 390.2L188.7 390.9L187 392.4L185.2 394L184.4 394.7L183.8 395L182.1 395.5L180.4 396L180 396.1L179.8 395.9L178.5 395L177.4 394.2L177.3 394.1L177 393.2L176.2 391.4L175.2 389.8L174.8 389.2L174.6 388.8L174.4 387.2L174.1 385.4L174.1 384.7L174.3 384L174.9 382.5L175.4 381.6L175.6 381.5L176.9 380.8L177.7 378.9L177.7 376.7L177.1 375.4L176.9 374.8L177 373.5L177.5 371.9L177.6 371.7L178.1 371.4L179.8 370.3L181.4 369.3L182 369L183.1 368.9L185.4 368.5L187.6 368.1L188.6 368.1L189.9 368.2L192.1 367.8L193.9 367.5L194.9 367.4L196.1 366.8L197.5 365.4L199 363.5L199.5 362L199.8 361L201 359.2L202.3 357.5L202.8 356.9L203.4 356.6L205.3 355.5L207.3 354.4L208.2 353.9L208.8 353.7Z"/><circle cx="210.7" cy="359.4" r="6.3"/><circle cx="209.3" cy="358" r="6.1"/><circle cx="210.6" cy="356.9" r="5.1"/><circle cx="213.1" cy="363.4" r="5.2"/><circle cx="215.7" cy="366.5" r="5.2"/><circle cx="219.4" cy="369.6" r="4.8"/><circle cx="221.4" cy="372.1" r="5.2"/><circle cx="222.9" cy="374.4" r="5.4"/><circle cx="222.7" cy="374.9" r="5.4"/><circle cx="220.9" cy="378.4" r="6.3"/><circle cx="224.8" cy="386.2" r="6.5"/><circle cx="224.9" cy="386.1" r="6.4"/><circle cx="226.3" cy="386.4" r="5.6"/><circle cx="225" cy="388.9" r="6.4"/><circle cx="223.6" cy="391.8" r="5.7"/><circle cx="221.8" cy="396.1" r="6.1"/><circle cx="221.5" cy="395.4" r="6.3"/><circle cx="219.4" cy="395.2" r="6.5"/><circle cx="216.5" cy="397.3" r="5.3"/><circle cx="212.3" cy="397.7" r="5.5"/><circle cx="210.3" cy="396.8" r="5.8"/><circle cx="210.5" cy="397.1" r="5.5"/><circle cx="211.6" cy="398.5" r="6.4"/><circle cx="211" cy="398.5" r="6.4"/><circle cx="212.3" cy="390.1" r="4.7"/><circle cx="209.2" cy="382.8" r="5.1"/><circle cx="203" cy="380" r="4.8"/><circle cx="199.4" cy="378.8" r="5.5"/><circle cx="193.2" cy="379.7" r="6.2"/><circle cx="188.3" cy="383.8" r="5.7"/><circle cx="186.2" cy="387" r="4.9"/><circle cx="184.3" cy="387.2" r="6.2"/><circle cx="181.5" cy="389.9" r="5.9"/><circle cx="180.8" cy="390.5" r="5.7"/><circle cx="182.3" cy="391.1" r="5.8"/><circle cx="181.6" cy="391.1" r="5.8"/><circle cx="181.5" cy="388.6" r="6.5"/><circle cx="178.9" cy="387.4" r="5"/><circle cx="178.9" cy="384.9" r="5.3"/><circle cx="179.8" cy="385.5" r="6.1"/><circle cx="180.7" cy="383.9" r="5.5"/><circle cx="183.3" cy="375.4" r="6.2"/><circle cx="181.4" cy="374.6" r="5"/><circle cx="180.9" cy="376.3" r="6.3"/><circle cx="183" cy="373.3" r="4.7"/><circle cx="185" cy="374" r="5.9"/><circle cx="188.1" cy="372.5" r="4.9"/><circle cx="193" cy="372.2" r="5"/><circle cx="200.2" cy="369.8" r="5.5"/><circle cx="204.7" cy="364.5" r="6.2"/><circle cx="204.9" cy="362.2" r="5.4"/><circle cx="205.9" cy="359.9" r="4.8"/><circle cx="209.3" cy="359.6" r="6"/><circle cx="209.6" cy="357.8" r="4.6"/></g>
<g fill="#d38a1c"><path d="M210.7 353.7L212.6 353.7L213 353.7L213.3 354L214.5 355.3L215.2 356.2L215.2 356.4L215.3 357.7L216.3 359.8L217.4 361.5L218.2 362.4L219 363.1L220.5 364.7L222.2 366.4L223.2 367.1L223.8 367.7L225.1 369.3L226.5 371.1L227 371.8L227.2 372.4L227.6 374.1L227.6 375.3L227.5 375.5L226.7 376.8L226.9 379L227.9 381L229 381.9L229.6 382.3L230.3 383.8L231.1 385.7L231.3 386.4L231.3 387.1L230.9 389.1L230.5 390.9L230.3 391.3L229.6 392.1L228.4 394.2L227.5 396.4L227.2 397.6L227.1 398L225.9 399.2L224.7 400.2L224.3 400.3L223.3 400.4L221.1 400.9L219.2 401.5L218.4 401.8L217.8 401.9L215.9 402.2L213.8 402.5L212.9 402.7L212.2 402.6L210.3 402.2L208.3 401.7L207.6 401.6L207.3 401.3L206.4 400L205.5 398.8L205.4 398.7L205.6 398.1L205.9 396.3L206.3 395L206.7 394.5L207.5 393.4L208 391.5L208.1 389.9L208 388.6L207.3 387.5L206.3 386.5L205.3 385.3L204.3 384.6L203.1 384.3L201.5 384L199.9 383.8L198.7 383.8L197.6 384.2L196.1 384.8L194.7 385.3L193.8 385.8L193.1 386.4L191.7 387.7L190.1 389.2L189.3 390.2L188.7 390.9L187 392.4L185.2 394L184.4 394.7L183.8 395L182.1 395.5L180.4 396L180 396.1L179.8 395.9L178.5 395L177.4 394.2L177.3 394.1L177 393.2L176.2 391.4L175.2 389.8L174.8 389.2L174.6 388.8L174.4 387.2L174.1 385.4L174.1 384.7L174.3 384L174.9 382.5L175.4 381.6L175.6 381.5L176.9 380.8L177.7 378.9L177.7 376.7L177.1 375.4L176.9 374.8L177 373.5L177.5 371.9L177.6 371.7L178.1 371.4L179.8 370.3L181.4 369.3L182 369L183.1 368.9L185.4 368.5L187.6 368.1L188.6 368.1L189.9 368.2L192.1 367.8L193.9 367.5L194.9 367.4L196.1 366.8L197.5 365.4L199 363.5L199.5 362L199.8 361L201 359.2L202.3 357.5L202.8 356.9L203.4 356.6L205.3 355.5L207.3 354.4L208.2 353.9L208.8 353.7Z"/><circle cx="210.7" cy="359.4" r="6.3"/><circle cx="209.3" cy="358" r="6.1"/><circle cx="210.6" cy="356.9" r="5.1"/><circle cx="213.1" cy="363.4" r="5.2"/><circle cx="215.7" cy="366.5" r="5.2"/><circle cx="219.4" cy="369.6" r="4.8"/><circle cx="221.4" cy="372.1" r="5.2"/><circle cx="222.9" cy="374.4" r="5.4"/><circle cx="222.7" cy="374.9" r="5.4"/><circle cx="220.9" cy="378.4" r="6.3"/><circle cx="224.8" cy="386.2" r="6.5"/><circle cx="224.9" cy="386.1" r="6.4"/><circle cx="226.3" cy="386.4" r="5.6"/><circle cx="225" cy="388.9" r="6.4"/><circle cx="223.6" cy="391.8" r="5.7"/><circle cx="221.8" cy="396.1" r="6.1"/><circle cx="221.5" cy="395.4" r="6.3"/><circle cx="219.4" cy="395.2" r="6.5"/><circle cx="216.5" cy="397.3" r="5.3"/><circle cx="212.3" cy="397.7" r="5.5"/><circle cx="210.3" cy="396.8" r="5.8"/><circle cx="210.5" cy="397.1" r="5.5"/><circle cx="211.6" cy="398.5" r="6.4"/><circle cx="211" cy="398.5" r="6.4"/><circle cx="212.3" cy="390.1" r="4.7"/><circle cx="209.2" cy="382.8" r="5.1"/><circle cx="203" cy="380" r="4.8"/><circle cx="199.4" cy="378.8" r="5.5"/><circle cx="193.2" cy="379.7" r="6.2"/><circle cx="188.3" cy="383.8" r="5.7"/><circle cx="186.2" cy="387" r="4.9"/><circle cx="184.3" cy="387.2" r="6.2"/><circle cx="181.5" cy="389.9" r="5.9"/><circle cx="180.8" cy="390.5" r="5.7"/><circle cx="182.3" cy="391.1" r="5.8"/><circle cx="181.6" cy="391.1" r="5.8"/><circle cx="181.5" cy="388.6" r="6.5"/><circle cx="178.9" cy="387.4" r="5"/><circle cx="178.9" cy="384.9" r="5.3"/><circle cx="179.8" cy="385.5" r="6.1"/><circle cx="180.7" cy="383.9" r="5.5"/><circle cx="183.3" cy="375.4" r="6.2"/><circle cx="181.4" cy="374.6" r="5"/><circle cx="180.9" cy="376.3" r="6.3"/><circle cx="183" cy="373.3" r="4.7"/><circle cx="185" cy="374" r="5.9"/><circle cx="188.1" cy="372.5" r="4.9"/><circle cx="193" cy="372.2" r="5"/><circle cx="200.2" cy="369.8" r="5.5"/><circle cx="204.7" cy="364.5" r="6.2"/><circle cx="204.9" cy="362.2" r="5.4"/><circle cx="205.9" cy="359.9" r="4.8"/><circle cx="209.3" cy="359.6" r="6"/><circle cx="209.6" cy="357.8" r="4.6"/></g>
<clipPath id="c25"><path d="M210.7 353.7L212.6 353.7L213 353.7L213.3 354L214.5 355.3L215.2 356.2L215.2 356.4L215.3 357.7L216.3 359.8L217.4 361.5L218.2 362.4L219 363.1L220.5 364.7L222.2 366.4L223.2 367.1L223.8 367.7L225.1 369.3L226.5 371.1L227 371.8L227.2 372.4L227.6 374.1L227.6 375.3L227.5 375.5L226.7 376.8L226.9 379L227.9 381L229 381.9L229.6 382.3L230.3 383.8L231.1 385.7L231.3 386.4L231.3 387.1L230.9 389.1L230.5 390.9L230.3 391.3L229.6 392.1L228.4 394.2L227.5 396.4L227.2 397.6L227.1 398L225.9 399.2L224.7 400.2L224.3 400.3L223.3 400.4L221.1 400.9L219.2 401.5L218.4 401.8L217.8 401.9L215.9 402.2L213.8 402.5L212.9 402.7L212.2 402.6L210.3 402.2L208.3 401.7L207.6 401.6L207.3 401.3L206.4 400L205.5 398.8L205.4 398.7L205.6 398.1L205.9 396.3L206.3 395L206.7 394.5L207.5 393.4L208 391.5L208.1 389.9L208 388.6L207.3 387.5L206.3 386.5L205.3 385.3L204.3 384.6L203.1 384.3L201.5 384L199.9 383.8L198.7 383.8L197.6 384.2L196.1 384.8L194.7 385.3L193.8 385.8L193.1 386.4L191.7 387.7L190.1 389.2L189.3 390.2L188.7 390.9L187 392.4L185.2 394L184.4 394.7L183.8 395L182.1 395.5L180.4 396L180 396.1L179.8 395.9L178.5 395L177.4 394.2L177.3 394.1L177 393.2L176.2 391.4L175.2 389.8L174.8 389.2L174.6 388.8L174.4 387.2L174.1 385.4L174.1 384.7L174.3 384L174.9 382.5L175.4 381.6L175.6 381.5L176.9 380.8L177.7 378.9L177.7 376.7L177.1 375.4L176.9 374.8L177 373.5L177.5 371.9L177.6 371.7L178.1 371.4L179.8 370.3L181.4 369.3L182 369L183.1 368.9L185.4 368.5L187.6 368.1L188.6 368.1L189.9 368.2L192.1 367.8L193.9 367.5L194.9 367.4L196.1 366.8L197.5 365.4L199 363.5L199.5 362L199.8 361L201 359.2L202.3 357.5L202.8 356.9L203.4 356.6L205.3 355.5L207.3 354.4L208.2 353.9L208.8 353.7Z"/></clipPath>
<g clip-path="url(#c25)"><g filter="url(#bl)"><circle cx="201.2" cy="367.7" r="2.1" fill="#c98018"/><circle cx="215.4" cy="391" r="2.3" fill="#c98018"/><circle cx="203.8" cy="387.7" r="2" fill="#c98018"/><circle cx="182.6" cy="389.2" r="2.4" fill="#d89123"/><circle cx="217.5" cy="385.2" r="2.3" fill="#d89123"/><circle cx="217.8" cy="392.9" r="4.2" fill="#c98018"/><circle cx="206.1" cy="390.8" r="2.5" fill="#d89123"/><circle cx="181.5" cy="389.6" r="2.7" fill="#c98018"/><circle cx="205.8" cy="379.7" r="2.8" fill="#d89123"/><circle cx="195.8" cy="387" r="2.2" fill="#c98018"/><circle cx="213.3" cy="392.9" r="3.2" fill="#d89123"/><circle cx="212.7" cy="360.3" r="4.4" fill="#c98018"/><circle cx="190.2" cy="381.5" r="2.9" fill="#d89123"/><circle cx="203.8" cy="382" r="3.6" fill="#d89123"/><circle cx="198.4" cy="378.8" r="2.9" fill="#c98018"/><circle cx="218.6" cy="379.6" r="3.5" fill="#d89123"/><circle cx="196.8" cy="380.6" r="4.4" fill="#c98018"/><circle cx="216" cy="387.8" r="2.8" fill="#d89123"/><circle cx="200.4" cy="383.1" r="2.8" fill="#d89123"/><circle cx="199.3" cy="384" r="4.5" fill="#c98018"/><circle cx="204.3" cy="360.1" r="4.3" fill="#c98018"/><circle cx="204.1" cy="384" r="3.1" fill="#c98018"/><circle cx="213.6" cy="365" r="4" fill="#c98018"/><circle cx="225.9" cy="387.6" r="3.6" fill="#d89123"/></g></g>
<circle cx="222.1" cy="329.4" r="15.3" fill="#c5c3ed" stroke="#fff" stroke-width="1.5"/>
<text x="222.4" y="333.2" font-size="10.5" text-anchor="middle" fill="#222">Nav</text>
<path d="M149.5 110V247.6" stroke="#333" stroke-width="0.6" fill="none"/>
<path d="M149.6 247.6L154.4 262.6L157.5 277.1L172.4 281.7L175.9 297.1L189.9 302.3L194.5 316.8L208 320.6" stroke="#3c3c3c" stroke-width="0.62" fill="none" stroke-linejoin="round"/>
<path d="M151.8 247.6L156.4 262" stroke="#3c3c3c" stroke-width="0.62"/>
<path d="M147.8 248.8L152.4 263.2" stroke="#3c3c3c" stroke-width="0.62"/>
<path d="M175.9 297.1L165.3 300.2M175.9 297.1L173 308.5M163.6 305.8L167.8 310M165.2 304.4L169.3 308.5" stroke="#3c3c3c" stroke-width="0.6" fill="none"/>
<text x="160" y="304.9" font-size="8.8" font-weight="bold" text-anchor="middle" fill="#111">N</text>
<text x="171.4" y="316.5" font-size="8.8" font-weight="bold" text-anchor="middle" fill="#111">N</text>
<path d="M40.7 188L40.7 187.6L40.7 187.2L40.7 186.7L40.7 186.1L40.7 185.5L40.7 184.8L40.7 184.1L40.7 183.4L40.7 182.6L40.7 181.8L40.7 180.9L40.7 180.1L40.8 179.1L40.8 178.2L40.8 177.2L40.9 176.1L40.9 175L41 173.9L41 172.8L41.1 171.6L41.2 170.4L41.3 169.1L41.4 167.9L41.6 166.6L41.8 165.2L42 163.8L42.2 162.4L42.4 160.9L42.7 159.4L43 157.8L43.3 156.3L43.6 154.7L43.9 153.1L44.2 151.6L44.6 150L44.9 148.5L45.3 147L45.7 145.5L46.1 144L46.5 142.4L47 140.9L47.4 139.4L47.9 137.8L48.4 136.3L48.9 134.8L49.4 133.4L50 131.9L50.5 130.5L51.1 129.1L51.7 127.7L52.3 126.3L52.9 125L53.5 123.7L54.1 122.3L54.8 121L55.4 119.8L56.1 118.5L56.9 117.2L57.6 116L58.4 114.8L59.2 113.6L60 112.4L60.9 111.2L61.7 110L62.6 108.9L63.6 107.7L64.5 106.6L65.5 105.5L66.4 104.5L67.4 103.4L68.4 102.4L69.5 101.4L70.5 100.4L71.6 99.5L72.7 98.5L73.8 97.6L74.9 96.7L76.1 95.9L77.2 95L78.4 94.2L79.6 93.5L80.7 92.8L81.8 92.1L82.9 91.5L83.9 90.9L85 90.4L86.1 89.9L87.1 89.5L88.2 89.1L89.2 88.8L90.3 88.5L91.3 88.2L92.3 87.9L93.3 87.6L94.3 87.4L95.3 87.2L96.2 86.9L97.1 86.7L98 86.6L98.8 86.4L99.6 86.3L100.4 86.2L101.2 86.1L102 86L102.8 86L103.6 86L104.4 86L105.3 86L106.1 86L107 86L107.8 86.1L108.6 86.2L109.5 86.3L110.3 86.4L111.2 86.5L112 86.7L112.9 86.8L113.7 87L114.5 87.3L115.4 87.5L116.2 87.8L117 88L117.9 88.4L118.7 88.7L119.5 89.1L120.4 89.4L121.2 89.8L122.1 90.2L122.9 90.7L123.8 91.1L124.6 91.5L125.5 92L126.3 92.4L127.2 92.9L128.1 93.4L129 93.9L129.9 94.4L130.8 94.9L131.6 95.4L132.5 96L133.3 96.5L134.1 97L134.9 97.6L135.7 98.1L136.4 98.6L137 99.1L137.7 99.7L138.3 100.2L138.9 100.7L139.5 101.3L140.1 101.8L140.6 102.4L141.2 103L141.7 103.5L142.3 104.1L142.8 104.6L143.4 105.2L143.9 105.8L144.5 106.5L145.1 107.1L145.6 107.8L146.1 108.4L146.7 109L147.1 109.6L147.6 110.1L148 110.6L148.3 111L148.6 111.4L150.2 110L149.9 109.7L149.6 109.3L149.2 108.8L148.8 108.3L148.3 107.7L147.8 107L147.2 106.4L146.7 105.7L146.1 105.1L145.5 104.4L144.9 103.8L144.4 103.2L143.8 102.6L143.3 102L142.7 101.5L142.1 100.9L141.6 100.3L141 99.7L140.4 99.2L139.7 98.6L139.1 98L138.4 97.4L137.7 96.9L136.9 96.3L136.2 95.8L135.4 95.2L134.5 94.7L133.7 94.1L132.8 93.6L131.9 93L131 92.5L130.1 92L129.2 91.5L128.3 91L127.4 90.5L126.5 90L125.7 89.6L124.8 89.1L123.9 88.7L123.1 88.2L122.2 87.8L121.3 87.4L120.5 87L119.6 86.6L118.7 86.2L117.8 85.9L116.9 85.6L116 85.3L115.1 85.1L114.2 84.8L113.4 84.6L112.5 84.4L111.6 84.2L110.7 84.1L109.8 84L108.9 83.9L108 83.8L107.1 83.7L106.2 83.7L105.3 83.6L104.4 83.6L103.6 83.6L102.7 83.7L101.9 83.7L101 83.8L100.2 83.9L99.3 84L98.4 84.1L97.5 84.3L96.6 84.4L95.7 84.6L94.7 84.8L93.7 85.1L92.7 85.3L91.7 85.6L90.7 85.9L89.6 86.2L88.5 86.5L87.4 86.9L86.3 87.3L85.1 87.7L84 88.2L82.9 88.7L81.7 89.3L80.6 90L79.4 90.7L78.2 91.4L77 92.2L75.8 93L74.6 93.9L73.4 94.8L72.3 95.7L71.1 96.6L69.9 97.6L68.8 98.6L67.7 99.6L66.7 100.6L65.6 101.7L64.6 102.7L63.6 103.8L62.6 105L61.6 106.1L60.7 107.3L59.7 108.5L58.8 109.7L57.9 110.9L57.1 112.2L56.2 113.4L55.4 114.7L54.6 115.9L53.9 117.2L53.2 118.5L52.5 119.8L51.8 121.2L51.1 122.5L50.5 123.9L49.9 125.3L49.2 126.7L48.7 128.1L48.1 129.5L47.5 131L46.9 132.4L46.4 133.9L45.9 135.5L45.4 137L44.9 138.6L44.4 140.1L43.9 141.7L43.5 143.2L43.1 144.8L42.7 146.3L42.3 147.9L41.9 149.4L41.5 151L41.2 152.6L40.9 154.2L40.5 155.8L40.2 157.3L40 158.9L39.7 160.4L39.4 162L39.2 163.4L39 164.8L38.8 166.2L38.6 167.5L38.5 168.9L38.4 170.1L38.3 171.4L38.2 172.6L38.1 173.8L38.1 174.9L38 176L38 177.1L37.9 178.1L37.9 179L37.9 179.9L37.8 180.8L37.8 181.7L37.8 182.6L37.8 183.4L37.8 184.1L37.8 184.9L37.8 185.5L37.8 186.2L37.8 186.7L37.8 187.2L37.8 187.6L37.9 188Z" fill="#000"/>
<path d="M33.6 186.3Q38.5 185.6 43.6 186.6Q44.4 187 44.3 188L40.3 245.2Q40.1 246.6 38.8 246.5L29.4 245.2Q28.1 244.9 28.2 243.6L32.9 187.2Q33 186.4 33.6 186.3Z" fill="#000"/>
<ellipse cx="53.3" cy="187.2" rx="11.6" ry="10" fill="#000"/>
<path d="M58 194L68.6 205.3" stroke="#000" stroke-width="4" stroke-linecap="round"/>
<path d="M255.7 106.3L268.2 113.5M268.2 113.5L268.2 123.3M264.2 130.2L255.7 135.1M255.7 135.1L243.2 127.9M243.2 127.9L243.2 113.5M243.2 113.5L255.7 106.3M268.2 113.5L276.5 108.7M267.3 111.4L275.1 106.9M248.5 93.3L234.5 92.4M234.5 92.4L229.9 84.5M234.5 92.4L229 101.2M232.5 91.5L227.3 99.8M217.4 128.8L229.7 135.9M229.7 135.9L229.7 150.2M229.7 150.2L217.4 157.4M217.4 157.4L205 150.2M205 150.2L205 135.9M205 135.9L217.4 128.8M227.4 137.9L227.4 148.2M216.8 154.4L207.9 149.3M207.9 136.9L216.8 131.8M217.4 157.4L217.4 167.8M255.7 150.8L268 157.9M268 157.9L268 172.2M268 172.2L255.7 179.3M255.7 179.3L243.4 172.2M243.4 172.2L243.4 157.9M243.4 157.9L255.7 150.8M256.3 153.8L265.2 158.9M265.2 171.2L256.3 176.3M245.7 170.2L245.7 159.9M255.7 179.3L255.7 190M281.3 135.4L293.8 128.2M293.8 128.2L293.8 113.8M293.8 128.2L306.3 135.4M281.3 135.4L281.3 151M281.3 151L290.8 156.3M297.7 155L300.3 150.5M295.8 153.9L298.4 149.4M291.2 161.8L288.6 166.3M293.1 162.9L290.5 167.4M298 160.5L306.9 165.6M306.9 165.6L319.4 158.4M306.9 165.6L306.9 180" stroke="#3a3a3a" stroke-width="0.75" fill="none" stroke-linecap="round"/>
<path d="M254.8 103.8L254.1 104.2M254 101.7L252.8 102.4M253.1 99.6L251.4 100.6M252.3 97.5L250 98.8M251.5 95.5L248.7 97M250.7 93.4L247.3 95.2M255.4 137.8L256 137.8M255.1 140.2L256.3 140.2M254.8 142.5L256.6 142.5M254.5 144.9L256.9 144.9M254.2 147.2L257.2 147.2M253.9 149.6L257.5 149.6" stroke="#111" stroke-width="0.9" fill="none"/>
<path d="M255.7 106.3L264.4 94.7L261.4 93ZM243.2 127.9L228.9 134.5L230.6 137.4ZM281.3 135.4L273.1 128.9L271.6 131.7Z" fill="#111" stroke="#111" stroke-width="0.3" stroke-linejoin="round"/>
<text x="268.2" y="131.6" font-size="10.3" text-anchor="middle" fill="#222">N</text>
<text x="280.6" y="110" font-size="10.3" text-anchor="middle" fill="#222">O</text>
<text x="226.4" y="109" font-size="10.3" text-anchor="middle" fill="#222">O</text>
<text x="231" y="83.3" font-size="10" text-anchor="end" fill="#222">HO</text>
<text x="294.4" y="162.1" font-size="10.3" text-anchor="middle" fill="#222">S</text>
<text x="301.6" y="149.6" font-size="10.3" text-anchor="middle" fill="#222">O</text>
<text x="287.2" y="174.6" font-size="10.3" text-anchor="middle" fill="#222">O</text>
<text x="218.7" y="177" font-size="10.3" text-anchor="middle" fill="#222">Cl</text>
<text x="257" y="199.2" font-size="10.3" text-anchor="middle" fill="#222">Cl</text>
<text x="262.6" y="212.7" font-size="14.5" font-weight="bold" text-anchor="middle" fill="#111">Navtemadlin</text>
<text x="261.9" y="229.4" font-size="13.5" text-anchor="middle" fill="#111">Phase 3 MDM2 inhibitor</text>
<path d="M527.5 345.1h0M530.5 337.4h0M532.5 322.8h0M527.2 349.7h0M529.8 349.3h0M526.8 349h0M528.5 346.1h0M527.8 343.5h0M533.8 333.2h0M529.2 342.2h0M533.6 330.5h0M531.9 325.4h0M527.5 347.6h0M539.5 332.5h0M529.2 317h0M534.7 282.7h0M535.5 317.4h0M530.6 337.6h0M530.2 336.9h0M529.1 334.8h0M529.5 328h0M550 292.1h0M538.9 340.1h0M549 317.9h0M526.6 349.9h0M529 338.5h0M532.2 323.7h0M528.6 342.6h0M543 338.7h0M527.4 341.9h0M534.6 319.9h0M528.9 345h0M537.5 343.3h0M527 347.1h0M527.9 350.1h0M526.8 342.4h0M530.2 341.3h0M532.6 322.4h0M541.2 340.4h0M544.9 275.4h0M530.4 337.1h0M526.4 350.8h0M528.7 343h0M529.6 344.1h0M528.8 350h0M526.5 350.5h0M527.7 344.7h0M541.8 276.7h0M528.2 336.8h0M529.4 328.1h0M533.1 347.9h0M528.4 346.5h0M528 350.1h0M529.6 329.1h0M531 335.6h0M527 338.3h0M539.8 320h0M527 348.6h0M528.8 343.3h0M554.2 326.8h0M527.7 348.5h0M540.6 269.9h0M532 335h0M526.4 350.5h0M527 349h0M529.1 347.5h0M531.3 316.7h0M546.7 338.7h0M528.3 345.1h0M541.9 343h0M539.8 336.8h0M533.6 342.1h0M530.6 321.7h0M527 343.9h0M529.5 331.4h0M527.6 346.4h0M526.7 348.6h0M526.7 346.4h0M550.4 336.4h0M526.8 348.4h0M547.3 307.2h0M540.2 322.1h0M534.1 289.8h0M532.3 316.9h0M542.2 339.8h0M530.1 342.7h0M554.2 322.5h0M529.1 339.4h0M547.8 326.8h0M531.6 346.7h0M538.5 304.3h0M537.3 340.2h0M530.9 306.6h0M528.1 349.8h0M536.1 311.9h0M533.9 332.2h0M543.9 306h0M528.2 323.9h0M530 340.8h0M526.9 348.1h0M545.7 277.3h0M528.7 335.4h0M527.8 341.2h0M550.2 296.9h0M528.1 344.2h0M536.4 297h0M530.7 328.7h0M527.1 348.4h0M527.2 348h0M530.1 282.4h0M529.8 324.6h0M530.4 348.3h0M540.4 342.2h0M528.6 347.9h0M534.1 348.1h0M530.5 347.3h0M542.2 286.9h0M533.4 339.1h0M526.9 348.2h0M527 347.4h0M530.9 345.2h0M542.5 320.5h0M527.2 349.1h0M527.2 341.9h0M530.8 330h0M528.5 343h0M539.9 346.9h0M529.9 348.9h0M539.1 308.5h0M534.2 337.7h0M529.1 337.8h0M534 343.1h0M526.7 343.4h0M529.4 319.4h0M527.5 347.6h0M532.8 336.7h0M553.2 322.6h0M527.9 330.7h0M527.3 347.7h0M527.9 308h0M530.7 339.9h0M544.9 313.2h0M526.7 344.1h0M549.5 340.7h0M532.9 319.5h0M543.4 325.8h0M529.4 347.9h0M527.5 346.4h0M530.2 337.4h0M527.4 347.7h0M530.7 334.9h0M533 281.5h0M527.5 349.8h0M531.6 330.8h0M534.8 343.1h0M529.5 339.4h0M531.3 330.4h0M527.8 342.8h0M552.2 287.6h0M537.2 342.5h0M531.7 315h0M531.4 345.5h0M530.6 328.2h0M526.6 349.2h0M561.6 286.9h0M533.1 301.3h0M533 342.6h0M551.2 299.1h0M529 325.4h0M533.5 321h0M527.9 348.6h0M531.4 337.3h0M529 336.8h0M565.7 324.4h0M546.9 300.6h0M531.3 328.2h0M530 329h0M529 339.4h0M532.6 342.7h0M539.9 343.9h0M526.8 349.6h0M528.3 338.6h0M545.3 319.5h0M536.4 341.1h0M529.5 343.6h0M533.5 307h0M534.6 331.5h0M538.1 327.3h0M527.9 338.3h0M529.3 344.9h0M543.2 332.8h0M533.4 334h0M526.5 349.6h0M527.7 347.8h0M530.8 324.1h0M544.2 308.3h0M526.8 349.2h0M530.2 316.3h0M547.4 311.4h0M530.7 347.9h0M530.9 313.9h0M531.6 331.5h0M530.4 319.7h0M544.8 294h0M527.6 346.5h0M527.1 347.6h0M544 322.6h0M527.2 344h0M535.5 333.6h0M573.1 315.7h0M548.3 323.4h0M526.8 349.3h0M527.8 349.6h0M536.8 345.5h0M532.4 324h0M526.9 348.7h0M526.9 350h0M531.2 346.3h0M545.3 345.2h0M535.3 325.8h0M534.6 346.2h0M526.4 350.6h0M527.6 347.3h0M528.9 342.4h0M542.7 338.4h0M546.8 323h0M556.5 330h0M531 331.2h0M529.7 343.2h0M530 346.8h0M531 333h0M529.5 341.3h0M549.2 309.2h0M526.7 348.5h0M529.5 330.3h0M538.9 282.4h0M536 342.8h0M530.3 338.9h0M527.6 344.9h0M529.7 329.9h0M552.2 318.8h0M556.3 294.8h0M562.6 324.9h0M527.2 347.9h0M529.8 348.6h0M536.1 346.5h0M529.7 343.8h0M541.3 335.8h0M531.1 333.9h0M527.2 341.2h0M527.9 340.8h0M527.5 342h0M528 348.8h0M537.8 335.4h0M527.2 345.2h0M528.2 343.6h0M531.6 325.3h0M537.6 342.2h0M527.4 349h0M526.4 350.4h0M532.4 336.3h0M529.6 328.2h0M557.2 338.5h0M535.8 337.4h0M531.4 330.4h0M527.7 334.4h0M535.4 327.6h0M527.5 345h0M527 343.1h0M526.9 346.5h0M526.5 349.3h0M536.9 296.3h0M533 344.2h0M526.4 350.7h0M527.6 340.6h0M530.9 316.1h0M531.4 347.1h0M526.8 343.4h0M539 315.1h0M527.5 347.9h0M526.3 350.7h0M563 284.6h0M526.8 345.5h0M530.6 330.3h0M538.7 328.9h0M526.8 345.5h0M526.4 349.7h0M526.6 348.9h0M576.9 306.9h0M529.4 337.7h0M526.6 350.7h0M529 335.7h0M531.1 321.7h0M530.3 332.4h0M530.5 318.1h0M547 280.7h0M533.7 318.2h0M527.3 344h0M537.2 339.9h0M526.3 350.8h0M534.7 330.4h0M529.8 326.4h0M534.8 322.3h0M526.8 349.7h0M542.1 313.3h0M547.1 318.6h0M537.2 271h0M531.9 345.2h0M533.8 327.2h0M534.2 291h0M527.3 342.1h0M535 345.5h0M552.3 332.4h0M537.4 323.7h0M540.8 327.8h0M532.1 328.8h0M529.2 336h0M526.4 350.6h0M540.3 342.4h0M534.1 318h0M532.9 287.5h0M529.3 344.8h0M526.8 345.1h0M539.4 338.1h0M528.3 348.3h0M537 311.8h0M527.4 347.9h0M530.8 334.4h0M554.8 319.3h0M528.7 341.9h0M526.8 345.4h0M546.3 337.4h0M527.9 311.4h0M527.8 327.6h0M526.8 350.4h0M532.1 340.7h0M526.4 350.4h0M534.2 314.9h0M526.8 349.5h0M532.8 342h0M527.4 343.8h0M532.2 311.8h0M532.3 328.3h0M533.8 324.7h0M526.8 350.4h0M535.5 329.1h0M526.4 350.7h0M527.6 346.1h0M532.5 307.8h0M530.3 316.9h0M534.9 337.3h0M530.2 348.8h0M530.3 317h0M526.7 349.6h0M530.9 311.9h0M537.6 319.4h0M530.1 343.5h0M557.1 334.5h0M528.6 332h0M534.5 311.6h0M541.1 335.9h0M527.9 344.2h0M531.5 294.8h0M530.8 344.4h0M543.8 306.5h0M534.7 333h0M537.6 338.4h0M547.9 331.3h0M538.3 347.4h0M528.3 346.4h0M528.2 342.3h0M534.3 327.6h0M528.2 322.9h0M532.1 345.2h0M531.1 321.9h0M539.9 311h0M528.4 345.2h0M531.7 330.8h0M527.4 347.6h0M529.4 339.6h0M528.8 320h0M543.3 255.2h0M545 317.2h0M527.5 342.4h0M529.4 324.5h0M534.3 345.1h0M528.8 347.4h0M537.1 303.6h0M534.4 322.6h0M530.3 342.4h0M532.8 333.7h0M541 335.9h0M534 344h0M540.1 337.4h0M529.5 314.1h0M540.1 344.2h0M531.4 322.2h0M528.1 343.8h0M533.3 327.1h0M530.7 333.4h0M547.9 324.2h0M527.7 343.4h0M530.7 347.9h0M545.2 329h0M528.6 336.3h0M533.5 306.7h0M529.5 327.6h0M528.5 338.3h0M561.1 305.9h0M537.7 344.4h0M529 327.7h0M536 316.1h0M530.8 320.2h0M528 335.9h0M533.3 322.6h0M527.9 350.4h0M529.5 316.7h0M529.3 340.4h0M526.7 348.8h0M539.5 284.4h0M530.1 338.4h0M527.5 345.1h0M528.1 343.4h0M527.4 348.2h0M530.3 345.2h0M529.6 344h0M526.7 350.1h0M555.1 308.9h0M543.6 343.7h0M540.5 343.9h0M527.3 333.8h0M552.9 286h0M539.9 331.8h0M529.2 339h0M537.6 342h0M527 344.3h0M527 346.9h0M527.8 344.1h0M539.2 316.3h0M527.6 336.4h0M527.7 346.9h0M529.6 343.4h0M530.4 335.6h0M532.7 325.7h0M526.8 350.2h0M526.4 350.5h0M528.5 350h0M529.6 333.5h0M528.6 345.7h0M536 297.3h0M539.2 314.1h0M530.3 347.9h0M527.2 345.4h0M539.6 342.3h0M538.4 307.5h0M532.5 331.1h0M529.1 346.5h0M529.4 349h0M527.3 349h0M539.5 338h0M539.4 318.5h0M528.8 322.7h0M533.6 331.5h0M532.2 330.2h0M535.1 305.8h0M533.9 339h0M535.1 346.3h0M548.6 339.2h0M529.7 339.8h0M534 308.1h0M540.2 337.4h0M526.8 349.7h0M533 317.8h0M554.7 330.6h0M538.7 343.3h0M555.6 316.9h0M528.5 330.2h0M534.6 337h0M528.6 339.9h0M537.7 322.1h0M528.1 342.1h0M540.3 333.1h0M545.3 324.1h0M530.3 329.4h0M532.4 317.4h0M550.5 263.4h0M527 348.8h0M526.8 347h0M528.1 348.3h0M530.7 322.3h0M546.5 340.4h0M529.6 326.4h0M526.7 348.6h0M528.4 334.8h0M533.6 307.1h0M531.8 324.2h0M537.5 337h0M527.6 343.9h0M536.9 344.1h0M529.4 337.2h0M532.9 345.5h0M532.2 316.2h0M530.7 331.6h0M527.2 349h0M528.1 329.5h0M526.9 347.8h0M547.6 342.1h0M528.6 345.7h0M531.2 310.3h0M529.7 324.7h0M528.7 340.6h0M546.8 341.3h0M532.9 306.7h0M535.9 346h0M535.2 286.6h0M539.3 325h0M527.9 341.9h0M532.3 344.8h0M534 310.4h0M531.5 325.5h0M527.1 345.3h0M528 341.8h0M527.3 347.9h0M527.5 350.3h0M528.2 343.7h0M528.1 336.4h0M528.5 337.5h0M531.7 310h0M550.4 296.8h0M528.6 343.8h0M575.6 279h0M530.5 328.1h0M527.6 350h0M527.2 343.2h0M530.9 334h0M530.2 327.3h0M538.7 296.5h0M536.2 339h0M527.1 350.2h0M553.3 326.3h0M526.5 350.1h0M530 347.8h0M530.9 331.3h0M527.2 349h0M542.7 329.2h0M535.8 347.3h0M535.9 339.5h0M533.3 337.2h0M528.3 342.8h0M527 350.2h0M527.2 346.3h0M528.3 345.2h0M539 318.4h0M532.6 346.8h0M526.8 349h0M527.9 345.7h0M529 336.5h0M533.7 318.9h0M528 342.6h0M541.7 341.5h0M531.6 340.6h0M528.8 348.7h0M539.2 345h0M529.1 334.7h0M526.8 349.5h0M530 341.8h0M559.9 329.2h0M526.9 345.7h0M526.8 349.9h0M527.2 348h0M526.9 344.5h0M531.2 348.5h0M526.6 349.6h0M528.5 348.3h0M529.8 328.6h0M544.5 332.7h0M529.4 335.9h0M527.7 342.4h0M532.2 348.1h0M534.2 334.1h0M530.7 344.7h0M536.7 329.8h0M531.7 346.1h0M527.5 336.3h0M529.5 327.8h0M537.2 315.1h0M527.8 346.3h0M529.8 347.7h0M526.8 348.4h0M526.6 350.5h0M563.3 311.3h0M535.9 323.1h0M543 342.9h0M547.1 337.5h0M553.5 334.8h0M527.9 346.2h0M535.2 296h0M537.6 304.3h0M544.4 330.4h0M530.4 348.5h0M542.7 282.1h0M527.3 348.1h0M528.8 336.7h0M527.8 347.3h0M543.7 334.9h0M528.5 337.2h0M529.7 340.5h0M532.5 336.6h0M543.9 304.2h0M538.4 342.1h0M530.3 347.8h0M529 340.9h0M527.4 343h0M546.4 330.9h0M548.9 335.1h0M530.3 321.6h0M533.8 330.9h0M527.3 334.6h0M526.7 349.3h0M528.3 335.2h0M530.6 324.4h0M526.7 348.2h0M530.7 329.8h0M535.6 338.5h0M530.8 346.9h0M527 346.7h0M528.1 338.4h0M526.5 350.2h0M528.3 349.8h0M529.5 317.6h0M542.1 303h0M532.2 306.9h0M534.7 321.2h0M526.8 348h0M540.5 333.7h0M527.2 347.6h0M540.3 339h0M529.3 342.6h0M531.8 333.1h0M529.2 348.6h0M528.7 342.4h0M529.3 320.1h0M530.2 333.2h0M541.8 326h0M526.8 343.2h0M529.5 333.8h0M527.1 347.6h0M543.1 300.5h0M548.3 302.5h0M528 350.1h0M532.3 331.3h0M534.2 325.9h0M537.1 310.8h0M526.8 349.4h0M528.2 336.3h0M534.5 283.5h0M527.1 343.1h0M527.6 347.4h0M536.5 342h0M528.1 339.4h0M528.1 345.6h0M527.9 341.6h0M540.8 318.5h0M527.5 350.2h0M528.3 338h0M527.5 338.5h0M546 330.1h0M536.1 317.7h0M528 336.1h0M547.7 303.6h0M526.7 346.7h0M546.1 333h0M537.9 289h0M554.3 323.1h0M531.8 348.6h0M528.9 337.2h0M527.2 348.5h0M555 337.5h0M526.5 349.6h0M527.3 345.8h0M528.2 344.6h0M544.5 306.8h0M531.3 322.6h0M534.6 321.9h0M546.4 249.5h0M527.5 348h0M527.3 332.6h0M527.5 348.1h0M532.1 310.8h0M526.8 348.3h0M528 348.1h0M528 336.5h0M535.4 324.2h0M544 336.8h0M528.6 335.7h0M531.9 311.4h0M529.5 342.1h0M533.3 325.5h0M527.8 342.4h0M527.9 344h0M529.2 335.5h0M530.2 340.9h0M529.2 344.8h0M527.8 349.4h0M534.2 329.5h0M531.3 331.6h0M527.2 349.2h0M535.8 272.4h0M535.2 343.7h0M531.6 332.5h0M537.9 332.8h0M534.5 288.2h0M537.9 344.2h0M550.4 272.5h0M533.1 343.8h0M533.1 302.5h0M527.3 344.4h0M551.1 319.8h0M543.2 318.6h0M529.9 337.4h0M531.1 333.4h0M526.5 349.9h0M529.6 303.9h0M528 328h0M528.4 338.1h0M538.4 345.6h0M531.5 300.7h0M531.9 348.2h0M529.6 342.1h0M528.4 344h0M527.2 339.9h0M527.6 345.4h0M527.5 346.5h0M531.7 295.6h0M528 321.7h0M527.5 349.6h0M532.1 317h0M563 297.1h0M537.4 329h0M530.4 339.1h0M529.3 341h0M533 334.8h0M538 333.6h0M529.7 338h0M532.8 316.6h0M533.7 329.7h0M526.6 345h0M528.8 341.7h0M527.2 346.5h0M534.3 342.7h0M561.3 316.2h0M533.1 327.3h0M528.4 343.6h0M534 346.5h0M528.2 342.8h0M526.6 350.2h0M527.5 337.2h0M528.5 343.8h0M528.9 343.9h0M528.5 329.5h0M528 342h0M546.9 314.2h0M532.7 319.3h0M531.5 308.6h0M527.6 319.7h0M530.1 339h0M527.7 346.2h0M526.5 350.4h0M540.3 341.9h0M542.2 286.1h0M532.1 308.8h0M542.1 278.6h0M537.2 300.3h0M527.2 350.2h0M531.1 348.5h0M528.3 337.8h0M530.1 328.3h0M555 301.4h0M527.4 343.1h0M526.4 350.8h0M558.6 304.4h0M532.6 334.2h0M527.7 346.7h0M545.5 318h0M528 346h0M528.5 342.4h0M528.3 342.2h0M532.6 337.2h0M534.5 329.2h0M542.4 335.1h0M534.4 304.6h0M530.8 326.5h0M528.6 338.4h0M533.1 326.3h0M532.9 302.8h0M531.1 341.2h0M531.4 334.2h0M535.1 277.8h0M528.8 291.1h0M527.5 335h0M540.5 328.7h0M529.3 346.5h0M530.5 335.2h0M540.4 270.8h0M537.5 311.9h0M526.8 344.2h0M565.2 317.4h0M528.1 328.5h0M529.3 339.7h0M531.8 346.7h0M526.8 349h0M526.4 350.6h0M533.8 332.8h0M540.8 274.8h0M536.4 303.8h0M527.2 347.7h0M538.6 330.8h0M530.5 323.2h0M528.9 324.2h0M528.4 344.3h0M530.1 332.7h0M526.4 350.7h0M526.4 349.9h0M547.3 308.9h0M526.5 350.1h0M534 311.4h0M528.4 335.8h0M529.9 323.4h0M526.9 345.3h0M530.3 342.9h0M527 348.1h0M540.9 339.7h0M530.9 321.9h0M540.1 322.6h0M527.5 345.6h0M533.2 337.3h0M527.6 346.8h0M532.6 326.2h0M539 316.1h0M528.3 343h0M549.2 327.8h0M526.9 347.3h0M533.3 339.5h0M527.2 349.8h0M528.4 332.3h0M550.2 291.8h0M533.2 326.1h0M527.8 348h0M528.3 350h0M533.7 323h0M546.8 327.5h0M527.7 344.3h0M529.8 346.3h0M527.1 347.9h0M528.2 318h0M528.2 331.1h0M526.7 348.4h0M539 323.3h0M527 347h0M532 283.1h0M530 344.6h0M530.8 335.5h0M531.9 332.2h0M528.8 333h0M527 350h0M528.4 342.1h0M527.1 339.8h0M529.6 319.7h0M527.5 343.2h0M535.4 344h0M543.5 340.6h0M528.8 334.3h0M530.4 323.5h0M535.4 345.8h0M538.9 296.8h0M528.8 336.6h0M532.2 325.8h0M529.1 322.7h0M540.5 306.3h0M536.4 328.7h0M529.7 329.2h0M534.2 306.7h0M532.1 330.7h0M528.7 334.6h0M528.6 334.7h0M529 319.7h0M533.5 345.7h0M531.3 324.4h0M532.7 316.9h0M530.2 314.5h0M527.2 343.8h0M534.5 294.3h0M550.6 275h0M540.8 297.3h0M529.1 348.3h0M530.5 346.9h0M527.6 346.7h0M532.4 346.3h0M550.6 338.4h0M532 342.4h0M530.3 325.9h0M534.3 336.7h0M551.4 329.8h0M533.2 325.1h0M534 306.7h0M526.8 344.1h0M526.8 347.1h0M536.5 331.4h0M547.1 284.9h0M546.9 313.3h0M539 300h0M526.4 348.8h0M533 326.1h0M528.4 338.5h0M538.1 278.3h0M527 347h0M526.4 350.3h0M541.5 335h0M534.6 324h0M533.1 303h0M529.7 331.7h0M526.4 350.7h0M526.7 349.9h0M528.9 326h0M530.2 328.1h0M528.4 332.3h0M546.2 334.8h0M533.9 334h0M533.7 308.6h0M532.9 344.2h0M527.9 339.2h0M532 337.2h0M549.5 328.3h0M529.7 342.1h0M531.9 339.3h0M527.5 340.2h0M540.1 342.2h0M542.3 288.6h0M538.2 333.6h0M527.8 345.6h0M530.4 316.5h0M542.8 275.8h0M529.5 332.5h0M545.9 319.1h0M533.1 332.7h0M527.4 348h0M527.4 347.4h0M537.5 323.2h0M536.2 343.3h0M533.3 347.1h0M526.4 349.8h0M538.3 328.3h0M528.4 345.5h0M535.8 323.8h0M530.4 346.3h0M527.5 342.1h0M527.3 344.6h0M527.9 342.3h0M529.2 322.4h0M536.7 305.6h0M529.2 336.1h0M537.4 313.1h0M528.7 336h0M527.5 339.6h0M533.7 329.2h0M534.8 336.9h0M527.4 348.6h0M528.7 341.1h0M528.6 348.8h0M527 343.3h0M529.2 335.6h0M533 339h0M534.8 323h0M564.5 321.2h0M536.5 326.1h0M532.5 320.2h0M536.1 324.6h0M527.6 337.2h0M538 277.1h0M536 315h0M528 345.9h0M528.2 346.2h0M526.7 349.4h0M531.5 324.4h0M540.7 302.6h0M526.4 350.8h0M528.8 321.3h0M533.6 309h0M526.6 349.6h0M528.4 343.9h0M527.6 348.7h0M528.2 332.2h0M531.3 336.6h0M527.8 331.6h0M527.1 346.2h0M526.9 347.8h0M534.5 305.2h0M527 350.3h0M527.2 346.1h0M527.1 347.4h0M526.3 350.8h0M527.6 333.9h0M527.6 337.6h0M529.5 332.4h0M550.3 277.4h0M543.4 311.6h0M554.4 335.9h0M526.4 350.5h0M527.7 342.1h0M536.5 309h0M531.4 342.2h0M531 332.8h0M527.3 343.2h0M529.6 336.1h0M527.8 350.1h0M526.9 345.1h0M529.3 321.9h0M532.8 339.7h0M532.7 325.4h0M529.6 334.3h0M543.7 340.5h0M528 346.8h0M536.6 346.6h0M532.9 340h0M528.5 337.9h0M527.6 349.5h0M528.7 340.8h0M534.7 329.4h0M528.2 344.5h0M534.4 284.7h0M532.5 343.7h0M538 310.8h0M532.6 336.5h0M540.8 319.8h0M569.1 280.7h0M534.3 334.6h0M532.8 345h0M531.4 330.2h0M541.2 340.9h0M530.9 346.2h0M534.9 304.8h0M557.8 312.3h0M530.5 338.8h0M531 348.6h0M527.9 340.2h0M565.3 314.8h0M535.4 295.6h0M537.9 342.1h0M528.9 338.2h0M546.2 337h0M532.4 313.6h0M528.4 348.8h0M539.9 312.1h0M530.5 324.2h0M528.9 347.9h0M527.3 348.4h0M527.9 341.4h0M534.2 333.6h0M529.2 318.5h0M541.8 333.4h0M540.6 333.1h0M528.4 306.9h0M533.6 312.7h0M530 343.9h0M526.5 350h0M536.2 274.3h0M553.5 317.3h0M529.6 316.1h0M536.9 304.6h0M528.2 339.9h0M557.9 318h0M531.5 325.4h0M537.9 307.2h0M539.8 331.5h0M527.1 347.4h0M528.5 348.6h0M534 307.8h0M538.4 342.8h0M528.1 320.9h0M531.9 335.9h0M542.6 308.6h0M527.6 350h0M546.5 339.6h0M541.6 304.3h0M527.3 343.3h0M527.6 348.5h0M534.3 336.5h0M529.7 320.5h0M527.1 349.9h0M526.4 350.6h0M529.8 341.1h0M543.7 336.1h0M528 350.1h0M535.5 304.7h0M527.7 337.9h0M530 320h0M535.9 324.8h0M530.1 337.7h0M527.4 340.1h0M535.3 336.3h0M531.9 330.4h0M529.2 335h0M528.3 343.8h0M526.6 349.1h0M527.6 342.1h0M531.7 321.5h0M528.6 350.2h0M535.4 336.8h0M526.9 347h0M537.1 345.3h0M528.8 341.8h0M535.2 339h0M540.2 346.6h0M534.4 304.5h0M528 349h0M526.8 348.8h0M531.6 347h0M527.7 349.3h0M528.8 323h0M528.5 341.4h0M535.7 308.8h0M527.5 345.8h0M529.9 296.1h0M536.6 336.2h0M534.4 326.6h0M531 338.2h0M528.1 336.9h0M535 318.9h0M532.2 329.5h0M530.3 343.6h0M535.2 337.8h0M532.1 343.3h0M533.9 309.5h0M552.3 308.9h0M532.5 338.1h0M529.9 320.6h0M528.3 341.4h0M551.1 331.7h0M543.4 313.5h0M531.2 297.6h0M556.5 323.7h0M539 314.2h0M548.5 318.2h0M526.6 349.1h0M532 305.2h0M528.1 346.1h0M555 321.3h0M533.7 323.7h0M540.9 335h0M531.6 328.8h0M529.4 348.9h0M544.8 315h0M546.9 310h0M546.9 317.4h0M528.4 347h0M528.8 319.2h0M541.8 341.7h0M527.3 349.1h0M527.8 344.8h0M529.2 337.1h0M526.5 350h0M537.7 332h0M528.5 344.4h0M528.1 334.1h0M547.8 323.3h0M535.5 310h0M528.2 344.9h0M537.1 347.8h0M540.4 312.9h0M529.9 336.5h0M533.4 346.2h0M527.4 347.3h0M534.3 330.6h0M530.1 342.1h0M544 281.8h0M528.2 337.4h0M551.1 290.4h0M528.3 349.9h0M540.3 339h0M530.3 339.1h0M539.6 277.4h0M526.4 349.5h0M542.2 280.5h0M533.8 335.3h0M526.7 348.5h0M546.8 321.7h0M528.9 348.4h0M551.5 340.4h0M529.4 326.3h0M528.2 342.3h0M539.8 311.6h0M528.5 345.8h0M527 347.5h0M527.6 344.9h0M530.2 336.3h0M528.4 340.2h0M532.8 299.4h0M528.7 330.1h0M526.6 350.4h0M529.5 336h0M534.7 347.1h0M539.3 330.1h0M530.6 319.7h0M553.2 330.9h0M532.8 329.2h0M572.3 311.3h0M531.6 335.1h0M532 333.8h0M530.5 331.8h0M527.3 348.7h0M555.1 324.7h0M533.4 308.3h0M526.7 349.4h0M536.5 323.7h0M532.3 341.3h0M550.7 289.9h0M526.8 350.2h0M528.5 342.4h0M528.2 342.7h0M532.6 334.7h0M529.3 344h0M530.4 346.1h0M526.4 349.7h0M532.6 336.2h0M536.1 283.8h0M527.1 338.8h0M548 279.3h0M527.4 346.8h0M529.1 336.6h0M526.9 346.2h0M527.8 339.7h0M528.7 339.9h0M534 266.2h0M528.6 341.2h0M527.8 346h0M531 328.6h0M532.3 348.3h0M526.7 349.7h0M533.5 340h0M533.6 287.3h0M531 333h0M543.2 312h0M531.8 329.9h0M532.1 314.5h0M531.3 332.2h0M529.6 304.3h0M528 337.5h0M527.1 347.1h0M531.8 325.7h0M558 332.7h0M537.4 343.6h0M531.3 302.2h0M530.4 324.5h0M539.4 300.7h0M526.6 347.7h0M526.9 346h0M538.4 340.1h0M532.5 342.6h0M545 327h0M547.5 319.5h0M529.7 331.2h0M531.6 326.5h0M547.8 307.9h0M531.6 338.2h0M537.8 316.6h0M542.7 303.7h0M533.9 326.7h0M532 329.6h0M527.8 349.3h0M544.2 316.4h0M526.5 349.7h0M531.8 301.2h0M529.6 337.6h0M530 345h0M532.2 329.5h0M531.4 325.2h0M540.9 338.3h0M536.9 306.1h0M527.1 340.3h0M526.7 348.5h0M529.6 296.7h0M526.7 349.2h0M530 329.8h0M527.9 346.7h0M546.5 332h0M534.8 293.8h0M530.7 347.7h0M555.3 317h0M526.7 344.2h0M527.8 341.5h0M526.8 348.1h0M531.6 332.4h0M528.9 331.7h0M527 344.7h0M531.6 336.7h0M530.5 332.4h0M532 304.1h0M531.1 315.5h0M527.8 344.2h0M528.7 346h0M541.3 327.1h0M526.7 347.6h0M529 346.7h0M533.5 320.1h0M528.1 345.8h0M532.7 337.9h0M528.2 336.5h0M531.6 339.5h0M537 332.6h0M530.2 328.1h0M531 313.4h0M528.3 348.6h0M532.8 343.3h0M536.1 325.8h0M526.5 350.7h0M528 341.4h0M534.8 338.3h0M530.8 341.7h0M538 294.4h0M532.7 314.4h0M538 295.4h0M541.6 324.7h0M526.6 349.1h0M532.9 324.4h0M528.2 349.6h0M548 298.1h0M536.8 339h0M531.5 346.8h0M526.7 350h0M526.4 350.8h0M533.1 333.1h0M536.3 315.9h0M528.9 336h0M530.8 299.5h0M540.3 342.6h0M530.6 346.7h0M530.1 323.8h0M531.4 346.5h0M528.3 336.6h0M527.2 342.9h0M528.9 335.5h0M538 296.9h0M531.2 334.4h0M529.3 343.1h0M548.6 300.7h0M530.6 331.9h0M534.2 347.7h0M539.8 340.7h0M531 320h0M530.7 337.8h0M553.1 319.5h0M528.6 345.6h0M535.9 344.7h0M548.4 339.1h0M535.3 339.6h0M527.1 342.1h0M527 347.2h0M529.1 333.4h0M526.5 350.2h0M529.7 336.3h0M528.2 329.5h0M527.9 329.9h0M534.9 317.7h0M528.8 347.9h0M540.3 330.1h0M532.1 317.8h0M550.6 327.5h0M531.6 346.6h0M529.7 313.8h0M532.9 340.3h0M526.4 350.6h0M537 292.4h0M543.3 336.8h0M561.5 330.3h0M526.7 349.7h0M528.2 342.1h0M535.7 317.1h0M533.6 318.9h0M533.3 310.4h0M529.2 332.2h0M539 322.3h0M527.8 343.5h0M527.6 340h0M555.1 315.7h0M534.5 337.5h0M534.7 326.2h0M533 320.6h0M541.2 333h0M528.8 324h0M530.1 335.6h0M527.2 348.4h0M537.9 293.2h0M529.8 341.2h0M527.5 344h0M529.1 341.8h0M529.7 311.2h0M537.3 301.4h0M527.6 343.6h0M527.3 342.6h0M535.3 298.8h0M530.4 334.7h0M527.5 344.6h0M527.9 348h0M529.5 329.6h0M531.8 339.9h0M533.8 335.1h0M528.2 348.9h0M534.8 338.8h0M528.3 331h0M533.3 330.8h0M529.4 339.4h0M526.6 350.6h0M529.5 312.5h0M528 336.5h0M528.4 336.6h0M527.3 347.7h0M531.1 331.9h0M528.8 339.3h0M535.4 287h0M526.9 345.6h0M533.4 346.9h0M531.4 336.7h0M544 311.3h0M533.4 306.1h0M534 336h0M528.3 331.5h0M528.5 346.3h0M531.5 303.3h0M528.7 343.4h0M531.5 307.6h0M526.4 350.8h0M529.2 333.7h0M555.9 300.8h0M529.5 329.5h0M540.9 307.5h0M530 337.6h0M530.5 337h0M541.5 338.6h0M541.9 340.6h0M527.4 341.7h0M536.5 345.8h0M536 335.6h0M527.2 346.2h0M538.9 337.6h0M529.5 343.6h0M531.1 317.1h0M528.4 341.1h0M555.1 337.6h0M541.2 319.4h0M527.6 343.8h0M531.9 342.6h0M554.4 287.7h0M527.4 326.3h0M555.9 297.9h0M529 347h0M527.7 339.9h0M540.6 323.3h0M537.1 312.6h0M532.2 333h0M529.4 295.4h0M530.6 325.1h0M539.2 285.9h0M531.4 321.6h0M539 346.5h0M529.2 336.9h0M538.5 337.2h0M529.3 337.3h0M527.1 346.7h0M530.7 331.1h0M533.4 306.2h0M528.4 343.2h0M530.1 344.8h0M545.7 343.2h0M527.1 345.7h0M533.4 342.6h0M531.2 347.5h0M532.1 303.8h0M531.3 295.1h0M547.9 340.4h0M526.4 350.3h0M527.8 348.1h0M541.2 297.5h0M528.6 337.2h0M538.2 341.1h0M531.2 336.6h0M528.2 344.5h0M552.9 317.1h0M536.8 302.8h0M533 308.3h0M526.4 350.7h0M532.2 294h0M545.6 301.7h0M527.5 346.7h0M528 336.8h0M526.7 348.5h0M527.5 345.8h0M527.5 336.2h0M530.6 344.9h0M526.9 349.9h0M529.2 325h0M530.7 330.6h0M561.3 314.8h0M528.7 331.1h0M527 340.4h0M529.3 312.7h0M535.5 334.2h0M532.3 330.1h0M526.9 346.4h0M531.6 320.5h0M528.5 337h0M529.3 333.3h0M526.7 349h0M538.3 335.7h0M529.7 323.2h0M531.1 323.1h0M535.8 337.5h0M528.7 332h0M540.4 337.7h0M536.8 336.9h0M526.5 349.4h0M532.4 344.6h0M545.7 332.7h0M544 300.3h0M527.2 343.9h0M528.6 320.1h0M539.9 341.5h0M530.2 339.4h0M528.3 342.9h0M531.1 333.5h0M533.8 348h0M527.1 350.4h0M531.5 303.1h0M538 337.1h0M531.7 345.9h0M529.9 349h0M533.1 305.9h0M530.4 329.6h0M527.8 350h0M533 313.4h0M533.3 291.3h0M536 334.5h0M529.7 323h0M530 329.6h0M531.8 327.4h0M541.5 310.9h0M532.7 331.2h0M533.7 318h0M538.7 336h0M545 270.4h0M530.7 348.7h0M526.6 349.4h0M529.6 344.7h0M530.8 348.2h0M534.4 344.1h0M528.1 347.4h0M526.6 348.1h0M528.5 341.4h0M527.7 348.3h0M526.6 349.7h0M536.6 311.9h0M528.3 338.5h0M530.1 325.5h0M533.5 347.1h0M526.6 349.7h0M550.4 282.2h0M527 348.8h0M535.3 342.4h0M538.7 312.3h0M529.6 340.1h0M544.4 335.9h0M529.3 337.8h0M528.5 335.4h0M533.7 321.2h0M527.7 339.5h0M526.6 350.2h0M526.6 350.7h0M531.6 337.2h0M534.6 300.9h0M528.4 342.1h0M528.5 345.1h0M535 344.6h0M529.4 334.3h0M532.3 314.8h0M533.3 342.5h0M533.3 324.5h0M531.3 334.4h0M531.1 337.1h0M526.6 349.3h0M537.9 292.8h0M527.7 348.5h0M532.4 320.7h0M533.4 314.4h0M527.6 347.3h0M536.1 342.9h0M538.2 343.6h0M531.4 348.4h0M543.7 326.7h0M527.1 348.2h0M537.3 312.6h0M527.6 337.6h0M526.6 350.4h0M539.8 317.8h0M541.4 338.7h0M544.4 333.8h0M535.3 339.2h0M527.9 349h0M538.8 345.9h0M540.8 286.1h0M531.9 338h0M526.4 350.3h0M526.9 348.4h0M527.4 327.1h0M527.3 346.9h0M549.9 289.2h0M526.5 350.3h0M528.7 347.7h0M526.8 347.7h0M531.7 320.5h0M526.7 348.3h0M527.8 343h0M530.5 301.8h0M528.9 330.3h0M538.2 339.9h0M527.3 346.8h0M535.2 346.2h0M531.5 297.4h0M529.5 348.8h0M526.6 350.2h0M532.9 317.6h0M535.9 290.4h0M533 316.7h0M533.5 319.1h0M534.9 330.3h0M532.4 340.7h0M528 349.8h0M530 293h0M529.2 337.5h0M534.2 315.2h0M532.9 334.3h0M526.9 349.9h0M529.3 331.5h0M549.2 328h0M534.5 320.3h0M527.1 341.1h0M536.2 329.2h0M546.6 277.9h0M531.4 333.4h0M539.8 278.7h0M540.5 293.2h0M528.5 341.4h0M533 333.5h0M542.3 321.5h0M530 348.6h0M541 279.9h0M543.7 328.6h0M533 326.3h0M556.2 279h0M529.8 333.9h0M542.6 342.5h0M527.2 335.7h0M533.8 321.7h0M528 340.7h0M527.6 346.2h0M542.5 311.4h0M530.9 296.3h0M528 328.9h0M536.3 312.9h0M535.5 318.8h0M527.3 346.9h0M531.4 343h0M541.9 337.3h0M538.1 294.4h0M529.5 328.7h0M539.5 306.2h0M550.6 337.7h0M529.1 333.8h0M526.8 349.5h0M528.1 345.1h0M527.1 349.3h0M538.5 333.7h0M527.8 347.5h0M547.2 293.3h0M528.6 347.1h0M528.7 341.7h0M529.7 349.3h0M528.8 347.3h0M534.2 338.2h0M563.9 317.4h0M543.1 338.4h0M529.6 347.4h0M526.9 344.9h0M526.6 349.7h0M532.1 347.1h0M530.4 344.2h0M528.4 346.4h0M528.9 328.1h0M534.4 322.2h0M568.7 319.1h0M531.2 345.7h0M535.8 330.5h0M537.9 339.9h0M527.9 347.3h0M538.8 304.5h0M532.1 315.1h0M527.2 344h0M551.2 296.8h0M532.7 345.6h0M529.7 333.7h0M531.1 347.9h0M548.5 336.4h0M544.3 314.1h0M527.2 344.4h0M536 326h0M527.2 343.2h0M529.6 312.2h0M533.6 286.8h0M536.4 308.4h0M526.9 350.2h0M527.2 343h0M538.2 328.9h0M527.9 339.4h0M538.3 292.4h0M530.6 347.4h0M528.8 337.2h0M526.8 350.2h0M532.8 333.1h0M545.2 343.5h0M529.3 345.6h0M549 329.5h0M532.2 347.7h0M533.5 323.1h0M529 328.8h0M526.7 349.9h0M528.3 342.9h0M531.6 318.3h0M527.5 348.1h0M527.3 348.5h0M526.9 338.1h0M527.8 344.1h0M534.6 316.7h0M534.4 325.8h0M528.7 337h0M528.8 328.1h0M528.6 343h0M550.2 284.6h0M528.7 312h0M529.5 313.5h0M528.1 340.8h0M527 338.2h0M530.1 326.2h0M530.6 341.7h0M526.6 349.1h0M531.1 345h0M528.5 334.2h0M538 311.2h0M540.5 309.6h0M545.8 315.5h0M530.3 335.5h0M545.6 330.8h0M538.2 309.6h0M529.1 334.8h0M537.2 335h0M527.1 346.5h0M531.1 332.8h0M548.4 335.1h0M530.8 341.5h0M526.4 350.2h0M529.9 339.1h0M526.6 349.7h0M530.1 333.2h0M530.1 305.6h0M536.5 333.9h0M526.9 344.8h0M547.9 277.8h0M528.1 345.9h0M539.9 336.8h0M545.8 334.4h0M527.4 337.8h0M530.2 312.3h0M527.3 343.6h0M528.2 339.9h0M526.5 350.5h0M528.9 338h0M532.9 306.2h0M529.5 321.5h0M536.1 284.6h0M527.1 347.2h0M530.8 330.2h0M529.1 319.4h0M535.6 306.2h0M531.3 337.3h0M533.7 325.1h0M528.2 332.8h0M552.2 285.7h0M528 347.5h0M538.2 306.6h0M531.3 347.7h0M528.5 349.3h0M532.6 344.1h0M527.2 344.3h0M555.3 315h0M530.7 348.9h0M533.9 334.2h0M526.6 350.6h0M532.1 342h0M528 347.8h0M530.6 309.6h0M545.3 312.3h0M526.9 349.5h0M549 277.8h0M530.6 346.8h0M560.9 322.6h0M527.1 347.2h0M528.2 338.8h0M534.2 344.9h0M528.9 316.7h0M528.7 341h0M527.2 350.3h0M527.4 345.1h0M527.6 331h0M532.2 345.8h0M527.2 344.7h0M542.6 343.9h0M529.2 348.7h0M537.4 311.6h0M531.2 295.2h0M529.7 328.6h0M527.5 345.7h0M535.8 322.7h0M568.1 293.6h0M543.1 339h0M528.9 321.4h0M532.6 340.2h0M548.9 308.3h0M529.4 330.7h0M526.9 350.5h0M534.2 341.6h0M528.5 338.9h0M527.9 349.8h0M531.3 344h0M526.7 348.3h0M555.4 313.5h0M551.2 317h0M537.7 308.7h0M526.5 350.6h0M539.3 300.9h0M526.9 350h0M528.8 345.2h0M534.2 288.5h0M531 334.5h0M530.2 332.4h0M528 341.8h0M547 329.6h0M553.2 339.7h0M530.2 312h0M526.9 349.9h0M527.7 331.6h0M538.9 296.5h0M528.7 335.8h0M528.1 333.8h0M533.9 331.5h0M531 346.2h0M561.7 283.9h0M536.9 296.6h0M529.5 341h0M527.8 344.8h0M529.9 342.1h0M534.4 333.4h0M528.3 340.5h0M527.1 348.1h0M533.3 343.4h0M531 319.7h0M542 335.1h0M529.3 349h0M526.5 348.9h0M526.7 348.6h0M527 343.2h0M526.7 348.8h0M535.7 325.5h0M536.3 303.5h0M551.5 330.6h0M526.5 349.4h0M526.9 349.6h0M550.7 334.2h0M526.7 350.5h0M526.5 350.4h0M559.6 331.6h0M551.7 333.3h0M531.4 346h0M530.9 344.8h0M529.4 319.7h0M526.7 347.5h0M532.7 348h0M529.1 349.2h0M528.2 327.4h0M559.2 313.2h0M534.6 334.5h0M526.4 350.7h0M529 337.1h0M527.9 346.2h0M528.1 347.2h0M545.7 337.3h0M538.5 310.8h0M536.1 343.3h0M537.7 313.1h0M529.7 338.8h0M528.5 318h0M547.2 327.7h0M532.3 283.7h0M527.3 344.5h0M527.5 337.3h0M527.7 348.2h0M529.7 333h0M527.7 344.1h0M532.5 340.9h0M538.4 344.8h0M532.5 341.8h0M526.8 343.6h0M528.6 345.6h0M533.1 314h0M528.6 339h0M532.8 334.7h0M528.5 337h0M534.3 312.5h0M528 347.8h0M531.4 336.9h0M530.5 322.7h0M529.2 349.1h0M535.6 333.5h0M538 338.8h0M540.4 285.5h0M526.4 350.8h0M533.6 336.7h0M528.1 346.2h0M531.1 332.4h0M534.5 310.7h0M530.3 344.9h0M530.9 318.9h0M527.8 341.9h0M530.3 338.7h0M526.8 348.7h0M526.8 346.3h0M527.4 347.3h0M535.4 339.8h0M547.9 313.3h0M530.6 348.2h0M530 322.6h0M538.3 319.7h0M535.1 312.9h0M526.5 350.7h0M527.9 344.5h0M534 317.8h0M529.9 319.5h0M528.6 347.5h0M528.6 332h0M532.2 343.5h0M532.5 348.2h0M541.7 282.7h0M526.8 348.6h0M531.4 319.3h0M529.2 336.9h0M545.6 317.1h0M531.6 319.4h0M532.6 333.1h0M533.3 328.5h0M530.6 328.8h0M535.3 342.6h0M528.8 342.6h0M577.3 319.4h0M527.1 347h0M530.1 342.3h0M545.3 300.2h0M526.9 350.4h0M527.3 346.9h0M528.8 343.2h0M537 266.3h0M542 339.8h0M530.4 342.5h0M537.3 325.9h0M567.6 301.1h0M535.9 321.4h0M528 342.2h0M533.6 337.6h0M530.8 342.9h0M536.3 326.5h0M532.4 323.3h0M534.4 281.2h0M528.4 347.2h0M533.6 273.1h0M565.9 305.6h0M529.5 347.8h0M536.2 335.2h0M536.8 329.8h0M530.2 339.6h0M532 292.3h0M528.3 339.3h0M532.2 334.7h0M540.7 280.4h0M528.8 344h0M535.1 290.2h0M535.5 284.1h0M528 346.1h0M534.2 331.3h0M528.1 344.5h0M527 346h0M532.9 271.6h0M538.8 339.5h0M573.2 316.2h0M528.5 335.4h0M527.1 346.2h0M529.6 344.5h0M529 332.7h0M532.6 333.4h0M527.3 348.1h0M526.9 346.8h0M528.1 345.2h0M529.3 322.1h0M526.5 350.7h0M531 344.7h0M532.4 319.2h0M543.8 335.6h0M532.4 314.7h0M542.5 273.2h0M563.6 325h0M526.8 343.8h0M527.1 340.9h0M534.3 326.3h0M537.6 295.6h0M529.9 336.4h0M533 346.8h0M529.4 336.8h0M526.7 349.3h0M534.7 315.5h0M537 320.6h0M537.8 309.2h0M541 346.2h0M530.1 316.8h0M530.9 334.6h0M528 336.2h0M527.7 342.8h0M529.6 348.3h0M532.3 326.6h0M527.2 349.3h0M533 330.4h0M543.1 330.1h0M534.7 312.2h0M530.4 330.3h0M538.9 335.6h0M528.3 347.2h0M558.4 314.5h0M527.1 345.7h0M535.1 329.5h0M542.3 331.7h0M528.4 349.7h0M573.4 299.6h0M543.1 314.5h0M531.2 311.7h0M541.4 344h0M533.3 324.1h0M527.4 348.7h0M535.1 337.2h0M532.1 327.6h0M527.6 345.4h0M535.1 343.5h0M528.8 348.2h0M539 299.9h0M544.5 338.4h0M528 335.4h0M527.3 340.5h0M535.9 327.4h0M539 320h0M540.6 291h0M557.9 283h0M530.5 334h0M532.2 314.1h0M536.5 324.5h0M531.7 338.8h0M530.2 345h0M533.6 295.5h0M527.7 344.7h0M529.2 320.4h0M536.5 331.6h0M548.1 291h0M537.9 314.1h0M531.8 326.9h0M527.7 345.3h0M534.2 342.9h0M558.2 285.2h0M534 298.2h0M546.4 301.8h0M531.3 307.3h0M527.5 339.7h0M527.3 344.9h0M542.1 342.8h0M526.9 346.2h0M545.3 320.3h0M558.4 286.7h0M537.5 316.4h0M527.5 336.5h0M528.3 315h0M540.8 315.3h0M527.2 346.6h0M540.5 306h0M530.7 328.2h0M537.6 336.5h0M543.1 313h0M528.9 345.7h0M527.4 349.8h0M526.8 349.2h0M544.4 330.5h0M529 323.5h0M533.6 335.3h0M529.5 338.2h0M534.9 346h0M533.3 345.2h0M549.3 335h0M530.4 302.7h0M533.3 328.9h0M528.4 336.9h0M553.5 304.4h0M530.6 331.7h0M527.7 349.8h0M533.7 316.9h0M526.7 348.3h0M527.7 329.3h0M538.9 343.6h0M528.5 344h0M530.8 308.1h0M526.7 349.4h0M530 344.1h0M529.4 315.5h0M548 334.1h0M528.1 342.7h0M538.5 340.9h0M535.7 335.4h0M549.5 267.3h0M526.6 348.9h0M538.4 340.2h0M538.6 344.1h0M547.7 306.9h0M532.5 299.7h0M529.5 321.4h0M536.2 322.6h0M543.7 335.2h0M528.7 349.4h0M526.6 349.4h0M534.5 328.1h0M527.3 345.2h0M541.1 324.5h0M533.7 304h0M529.7 336.1h0M527.2 341.7h0M526.9 347.2h0M529.9 346h0M542.7 300.9h0M530 337.9h0M534 335.9h0M527.1 339.3h0M534.3 315.4h0M531.8 324.3h0M555.3 336.9h0M526.4 350.6h0M527.1 346.2h0M527.6 347.7h0M527.8 343.7h0M547.3 337.4h0M531.1 311.4h0M530.4 344.7h0M549.2 322.3h0M527.4 346.5h0M532.2 313.3h0M538.5 300h0M528.2 341h0M527.9 349.6h0M532.6 323.2h0M533.1 318.9h0M529 333.5h0M530 330.3h0M527.2 345h0M526.6 350h0M534.6 337.4h0M531.9 344.8h0M549.3 325.3h0M536.7 327.6h0M546.9 338.2h0M526.6 350.2h0M529.4 337.3h0M552.3 292.1h0M528.4 346.9h0M527.3 339.5h0M527.2 349.5h0M532 284.9h0M531 330.1h0M527.9 336.3h0M532.9 334.3h0M543.3 278.4h0M537.6 260.3h0M546.9 335.8h0M529.4 348.9h0M526.5 349.6h0M528.3 349.8h0M552 320.3h0M539 322.7h0M547.6 278.9h0M529.3 342.7h0M547.7 301.2h0M543.9 307.6h0M529.8 282.2h0M537.1 284.2h0M539.1 326.8h0M527.7 341.5h0M557.6 310.9h0M529.3 341h0M526.5 349.5h0M546.3 290.3h0M533 344.8h0M528 340.4h0M537.5 316.6h0M527.4 343.9h0M535.8 287.7h0M531.8 328.9h0M539 310.6h0M532.6 329.8h0M532.2 347.6h0M536.5 346.4h0M529.6 302.5h0M547.3 287.6h0M529.4 340.4h0M534.3 265h0M546.6 325h0M538.9 342.6h0M527.3 341.1h0M535.8 319.1h0M529.9 342.1h0M532.9 347.7h0M527.3 340.2h0M529.4 318.8h0M526.6 349.7h0M534.1 303h0M528.9 333.2h0M530 305.6h0M535.5 344.8h0M544.3 301h0M541.9 344.3h0M549.2 323.7h0M532.7 332.5h0M534.6 343h0M528.8 337h0M526.4 350.7h0M527.6 346.3h0M530.8 348.9h0M526.7 349.7h0M529.2 328.6h0M527 348.2h0M530.8 321.6h0M532.8 339.6h0M530 289.2h0M527.4 349.6h0M533.4 345.3h0M535.8 319.3h0M536.7 304.4h0M526.5 350.5h0M531.2 347.4h0M530.2 313.9h0M528.6 327.7h0M540.2 306.4h0M529.2 329.5h0M550 340.1h0M529.3 343.8h0M526.7 347.9h0M574.3 308.2h0M530.1 332.9h0M529.5 344.9h0M533.6 333.4h0M529.2 321.8h0M527.8 335.8h0M531.3 329.5h0M527.4 333.6h0M543.7 331.2h0M549.4 269.8h0M527.3 348.5h0M528.7 344.4h0M530.9 344.4h0M527.9 343.6h0M550 310.3h0M528.6 345.1h0M526.4 350.6h0M531.2 327.3h0M539.9 320.4h0M533.8 295h0M537.9 320.3h0M536 332.8h0M527.6 343.3h0M527 346.2h0M530.4 348.9h0M527.1 348.1h0M532.8 329.8h0M553.5 286.6h0M549.1 325.9h0M555.8 309.7h0M574.8 325.5h0M539.7 341h0M527.2 343.7h0M543.7 307.2h0M527.4 348.4h0M529.8 333.4h0M527.4 346.7h0M530.1 334.2h0M526.8 342h0M531.7 326.6h0M530.6 337.4h0M527.9 344.7h0M528.6 331.1h0M528.6 342.5h0M533.6 328.7h0M527 350.4h0M551.9 297.1h0M526.9 349.7h0M532.3 324.1h0M526.4 350.5h0M527.5 339.6h0M532.8 320.3h0M529.5 345.6h0M534.3 335.5h0M528.7 346.4h0M540.3 290h0M538.7 345.1h0M528.6 340.2h0M528.2 323.4h0M527.4 347.4h0M537.1 303.5h0M527.1 341.3h0M527.1 346.7h0M526.6 346.6h0M531.7 317.6h0M530.3 344.8h0M526.5 349.7h0M535.5 336.6h0M529.4 340.8h0M528.2 338.4h0M526.9 344.2h0M535.6 327.5h0M526.9 350.5h0M526.6 348.6h0M531.3 321.4h0M561.4 281.8h0M527.7 342.2h0M527.5 347.9h0M531.4 276.1h0M533.9 348.5h0M527 349.5h0M531.6 299.1h0M528.5 326.9h0M528.2 331.7h0M528.8 338.3h0M533.6 344h0M534.8 309.6h0M535.1 339.5h0M527.6 344.8h0M555.4 310h0M550.2 338.7h0M527.1 347.7h0M529.1 343.9h0M532 343.9h0M530.3 342.2h0M534.2 342.7h0M533.4 334.9h0M533.8 345.7h0M529.3 340.6h0M533.2 326.2h0M544 330.9h0M531.6 298.8h0M533.7 316.4h0M529.1 349.9h0M494.3 315.9h0M516 321.1h0M521.5 348.1h0M521.3 343h0M520.7 329.3h0M522.1 348.9h0M510 331.9h0M521.8 348.3h0M514.2 330h0M525.4 348h0M512.7 322.4h0M525.1 344.2h0M499.6 328.9h0M525.4 350h0M518.5 337.8h0M524.6 345.3h0M524.1 345.3h0M523.5 333.8h0M523.8 337.4h0M512.8 346.6h0M525.7 350.6h0M524.8 347.5h0M498.4 326.1h0M523.7 348.6h0M521.7 347.8h0M500.7 328.6h0M525.5 350.4h0M525.5 349.9h0M522.8 347.9h0M519.8 347.4h0M525.1 346h0M523.2 346h0M524.8 347.2h0M514.9 322.1h0M523.1 344.2h0M517.6 312.6h0M525.1 347.5h0M516.2 306.5h0M519.6 342.1h0M524.3 334.2h0M522.2 340.6h0M520.9 331.4h0M521.8 335h0M523.9 348.9h0M511.9 311.9h0M525.6 350.4h0M491.8 322.3h0M524.7 350.1h0M524.3 350.1h0M523.8 324.9h0M513.4 338.4h0M524.2 347.6h0M522.7 323.9h0M525.5 349.6h0M524.4 344.6h0M524.6 349.8h0M522.8 340.3h0M521.3 333.1h0M523.6 349.7h0M524.9 350.1h0M522.5 343.8h0M521.2 335.2h0M518.2 343.1h0M524.6 345.5h0M522.7 348.5h0M523.4 339.5h0M524.8 345.3h0M522.3 333.7h0M518.3 347.5h0M525.6 348.7h0M523.7 324.9h0M525.2 346.6h0M525.6 349.4h0M523.7 337h0M518.5 332.4h0M522.8 342h0M524.4 335.3h0M525.2 345.6h0M525.7 350.4h0M525 346.4h0M522.9 343.9h0M520 348.3h0M520.1 330.9h0M524.5 345.6h0M524.1 348h0M521.4 335.4h0M514.7 345.6h0M521.8 342.6h0M522.6 348.8h0M524 343.9h0M523.7 339.6h0M524.3 340.3h0M525.4 349.8h0M519.8 335.7h0M519.5 344.4h0M520.4 348h0M524 348.1h0M520.9 336.9h0M524.8 350.2h0M521.1 339.8h0M518.6 333.7h0M504.2 343.4h0M515.5 343.4h0M521.4 344.1h0M524.5 333.2h0M521.3 338.4h0M523.4 326.9h0M503.4 323h0M525.2 349.1h0M524.9 348.7h0M518.6 346.3h0M522.7 311h0M525.2 350.4h0M524.3 343.5h0M519.5 344.5h0M513.4 335.2h0M524 348.8h0M525.2 339.7h0M525.1 346.7h0M524.2 349.3h0M523.2 327.6h0M523.9 345h0M516.9 341.1h0M518.7 341.9h0M518.8 314.6h0M525.3 348.2h0M521.8 343.9h0M518.8 337.2h0M521.3 347.2h0M523.4 335.6h0M524.8 350.3h0M507.8 333.8h0M515.4 337.6h0M524 348.1h0M525.4 349.7h0M524.6 348.1h0M519.6 298.8h0M522 348.7h0M524.7 343.4h0M524.4 343.4h0M520 342.6h0M525.2 349.1h0M507.7 329.4h0M514.1 327.7h0M525.5 349.7h0M523.2 344.5h0M523.8 346.1h0M524.9 350.2h0M525.1 344.8h0M523.5 339.4h0M522.2 322.5h0M525.2 349.5h0M519.5 340.4h0M522.7 338.7h0M508.2 340.3h0M522.3 348.2h0M523.4 344.1h0M499.2 332.7h0M524.7 341h0M523.8 342.1h0M519.4 328h0M525.5 349.7h0M524.1 342h0M520.9 332.3h0M521.4 323.8h0M516 333.8h0M520.2 349.3h0M524.7 347.7h0M515.2 333.7h0M525.7 350.4h0M522.4 325.4h0M520.9 345.2h0M525.2 347.7h0M521.7 348.4h0M524.6 348.3h0M522.3 340.3h0M519 347.2h0M517.1 341.4h0M525.6 349.2h0M525.7 350.5h0M525.4 350.1h0M524.2 345.8h0M523 343.8h0M524.5 341.4h0M519.7 328.8h0M518.1 339.6h0M521.4 347.3h0M519.3 314.1h0M509 338.4h0M520.5 347.7h0M515.7 335.9h0M519.4 346.5h0M523.6 342.4h0M520.6 336.4h0M525.3 343.6h0M521.8 338h0M522.9 341.5h0M525.5 350.3h0M524.5 330.3h0M511.2 343.6h0M523.3 339h0M519.5 346h0M522.6 331.8h0M517.3 333.6h0M525.7 350.7h0M515.2 337.8h0M523.5 345.8h0M525.4 349.6h0M524.5 349.4h0M521.2 314.6h0M520.9 343.8h0M521.3 333.4h0M524.2 346.4h0M518.5 344.1h0M520.7 341.2h0M523.9 347.4h0M525.6 350.3h0M524.9 348.6h0M520.3 324.8h0M515.5 322.2h0M525.6 349.9h0M522.6 348.9h0M521.5 345.6h0M524.6 340.5h0M518.1 343.8h0M525.5 350.2h0M525.7 350.6h0M524 345.1h0M524.4 347.3h0M510.6 344.5h0M524 345.5h0M521.6 337.8h0M524.5 344.8h0M523 342.7h0M517.5 348.3h0M518.2 329.1h0M521.6 348.7h0M520.5 339.8h0M515.4 314.1h0M525.1 348.9h0M523.5 349.5h0M523.8 346.8h0M510.6 342.2h0M521.2 324h0M525.4 350.2h0M524.4 345.8h0M524.3 345h0M525.4 348.8h0M523.3 339.6h0M525.5 350.4h0M519.1 332.7h0M520.3 346h0M524.9 346.2h0M515.8 342.1h0M519.8 337.8h0M523.6 343h0M519.3 335.9h0M522 347.9h0M525 350.3h0M525.5 348.1h0M525.4 349h0M524.5 345.5h0M515.1 339.3h0M510.9 346.1h0M501.5 322.6h0M511.5 325.1h0M525.6 349.3h0M525 350.4h0M524.7 340.2h0M522.7 322.4h0M520.6 346.3h0M522.5 338.6h0M522.3 335.6h0M513.1 292.9h0M525.5 349.6h0M525.5 350.2h0M512.6 336.1h0M525.1 346.9h0M519.1 325.9h0M525.4 349.5h0M523.4 347.1h0M523.2 347.6h0M521.1 340.5h0M523.7 347.9h0M525.4 349.3h0M525.4 349.3h0M516.4 317.5h0M525.4 349.6h0M522.6 344h0M522.7 347.2h0M525.3 347h0M524.7 343.1h0M513.6 309.2h0M516.6 346.3h0M519.8 329.6h0M498 341.5h0M520.9 335.6h0M524 340.3h0M525.1 345.2h0M521.4 349.1h0M519.3 324h0M524.5 346.6h0M525.1 350h0M522.6 345.3h0M514.5 327.4h0M519.4 341.3h0M522.9 326h0M515.9 348.1h0M523.4 346.8h0M525.1 349.2h0M525.3 346.9h0M525.6 350.5h0M523.8 348h0M521.9 344.9h0M509.5 332.4h0M523.9 343.8h0M508.9 330.5h0M519.8 341h0M517.8 327.5h0M525.2 349h0M525.5 349.9h0M523.1 334h0M520.6 333.5h0M523.3 344.7h0M513.9 339.1h0M525.2 348.4h0M525.5 347.7h0M524.9 341.9h0M522.4 326.7h0M520.1 336.2h0M522.2 345.5h0M523.8 344.8h0M522.7 347.6h0M516.7 340.9h0M510.4 316.9h0M521 340.9h0M522.8 323h0M520.8 336.6h0M525.3 347.5h0M523.5 335h0M524.7 348.3h0M524 345.3h0M520.6 347.3h0M523.8 342.1h0M504.5 296.5h0M524.9 349.1h0M505.8 333.9h0M516.5 344.6h0M525.2 349.2h0M523.3 331.8h0M514.3 322.2h0M520.5 347.6h0M509.6 342.4h0M524.6 346.8h0M517.5 335.2h0M520.4 334.6h0M508.7 334.4h0M520.8 333.5h0M523.7 343.2h0M523.2 346.8h0M518.4 347.2h0M523.4 337.2h0M523.6 322.1h0M524.3 347.8h0M518.4 347.3h0M524.7 347.9h0M513.8 330.9h0M519.7 319.7h0M517.9 343.5h0M523.4 347.3h0M524.7 346.3h0M523.8 331.3h0M521.5 332.3h0M519.4 327.7h0M521.1 342h0M525.2 344.3h0M520.5 347.7h0M524.8 349.1h0M525.1 348.4h0M522.4 322.7h0M521.2 323.1h0M519.9 335.7h0M521.5 340.2h0M521 338.3h0M522.2 347.5h0M525.1 348h0M523.5 343.1h0M517.9 347.9h0M521.5 325h0M524.5 349.4h0M524.5 349.4h0M511.2 344h0M523.6 348.3h0M523.2 348.7h0M525.1 347.1h0M525.5 349.1h0M521.1 342.3h0M516.8 326.9h0M524.2 348.8h0M525.7 350.5h0M521.3 309.4h0M522.7 348.6h0M521.1 340.4h0M525 337.1h0M524.5 341.7h0M511.8 297.4h0M519.8 344.7h0M515.7 343.3h0M525.4 348.2h0M517.1 347.6h0M521 330.3h0M522.7 348.7h0M514.9 292h0M525.6 349.8h0M520.2 349.3h0M523.6 341.1h0M517 341h0M516 340.9h0M517.6 344.6h0M525 347.8h0M518 335.6h0M524.8 344.5h0M524.1 336.7h0M525.3 350.2h0M519.5 336.3h0M525.2 343.4h0M524.8 348.8h0M525.7 350.6h0M524 347h0M522.7 345.5h0M524.4 346.6h0M521.1 327.9h0M523.3 341.1h0M521.4 333.8h0M525.4 349.1h0M523.7 346.2h0M525.1 350.1h0M524.9 340.6h0M523 343.7h0M520.8 347h0M524.1 348.6h0M524.8 347.5h0M524.7 345.1h0M505.8 332.8h0M521.6 346.2h0M517.2 333.2h0M524.6 343.3h0M514.4 312.6h0M504.9 325.8h0M524.4 346.9h0M524.9 348.6h0M522.4 332.2h0M524.5 336h0M522.1 344.9h0M520.1 338.8h0M524.7 349.1h0M505 331.8h0M524.5 346.8h0M525.4 349.5h0M514.6 319.7h0M524.3 339.1h0M506.6 343.8h0M522.8 337.3h0M524.9 346.5h0M523.6 335.9h0M523.4 343.5h0M522.8 345.4h0M519.5 311.1h0M524.9 338.6h0M525.1 343.9h0M524.6 343.6h0M521.9 334.5h0M525.6 350.6h0M521.4 340.6h0M506 336.6h0M523.9 337.5h0M521.9 345.4h0M523.2 340.9h0M525.7 350.7h0M525.1 348.5h0M522 348.1h0M507 312.4h0M524.3 349.9h0M525.2 346.4h0M524 344.9h0M522.8 346.4h0M521.3 344.5h0M517.6 332.1h0M511.6 343.2h0M500.1 333h0M524.2 341.2h0M514.5 332.1h0M524.8 347.3h0M525.3 349.5h0M512 325.9h0M522.1 346.7h0M518.1 337h0M524.4 347.3h0M525.7 350.6h0M524.4 346.6h0M524.8 348.6h0M519.4 338.3h0M523 323.9h0M523.9 348.5h0M522.7 332.1h0M516.7 344.5h0M509.6 339.2h0M520.9 325.3h0M519.7 322.5h0M524.1 343.5h0M520.4 311.5h0M516.3 344.1h0M518.9 328.4h0M520.7 347.5h0M523.9 346.8h0M523.1 344.7h0M520.4 335.9h0M518.9 338.8h0M507 324.4h0M520.8 323.9h0M525.7 350.4h0M525.2 348.6h0M525.5 350.3h0M523.9 341h0M511.7 307.1h0M524.1 337.3h0M517.3 317.1h0M524.9 348.9h0M517.4 343.3h0M523.9 347.7h0M508.9 333.7h0M525.5 346.5h0M525 346.6h0M522.9 349.5h0M522.7 345.4h0M523.2 331.3h0M518 344.2h0M512.7 335h0M522.1 341h0M525 347.2h0M514 344.8h0M516.6 346h0M518.2 330.7h0M525.2 349.5h0M522.8 341.1h0M525.3 345.3h0M524.6 343.7h0M524.7 346.9h0M520.2 332.6h0M523.2 345.5h0M525.7 350.5h0M518.6 335.6h0M523.5 345.9h0M525.2 350.5h0M521.1 326.4h0M525.4 348.8h0M524.7 348.6h0M522.5 342.8h0M515 332.9h0M523.7 341.8h0M523.9 337.1h0M524.4 341.4h0M525 348.8h0M525.1 341.7h0M520.7 344.7h0M525.3 348.8h0M521.4 334h0M522 333.2h0M520 345.1h0M524.8 342.4h0M525.1 349.6h0M521.6 340h0M522.7 347.8h0M508.9 314.1h0M511.9 329.7h0M525.1 344.2h0M525.1 341.4h0M525.3 348.9h0M520 335.5h0M518.4 323.9h0M519.9 345.5h0M521.8 341h0M524.7 340.5h0M520 343.6h0M517.4 341.2h0M512.6 330.2h0M523.8 347.2h0M515.4 341.8h0M525.2 345.5h0M524 336.8h0M520.7 331.3h0M524.1 348.5h0M524.4 344.8h0M522.6 343.3h0M522.8 336.5h0M513.8 338.2h0M524 345h0M525.5 346.3h0M524.9 347h0M525.2 347.6h0M525.6 349.8h0M512.9 338.2h0M524.4 340.7h0M525.4 346.3h0M525.6 350.4h0M502 327.5h0M505.2 344.4h0M525.5 350.6h0M525.4 350.3h0M521.7 345.3h0M518.6 334.5h0M522.8 344.4h0M525.2 337.8h0M525 343.9h0M525.3 347.3h0M518.9 347.5h0M517 342h0M516.6 329.5h0M520.7 338.7h0M524.6 334.3h0M522.8 324.8h0M523.6 341.7h0M522.1 341.7h0M521 333.8h0M524.7 343.6h0M525.5 349.1h0M513.9 327.3h0M522.7 323.7h0M524.8 347.3h0M523.8 343.8h0M516.7 323.4h0M524.7 344h0M519.3 347.9h0M513.6 289.3h0M523.7 335.6h0M522 337.8h0M523.3 320.2h0M523.4 338.8h0M524.7 340.8h0M525.4 350.6h0M524.7 337.2h0M524.2 342.1h0M521.9 330.5h0M523.3 336.1h0M524.1 334.8h0M521.2 311.2h0M523.5 341.3h0M504.2 321.8h0M507.9 323.6h0M505.1 330.8h0M515.4 288.4h0M518.6 326.2h0M523.5 348.4h0M523.8 347h0M518.5 327.7h0M524.3 346.8h0M519 338.7h0M523.4 338.6h0M512.3 308.9h0M494.2 332.7h0M519.5 338.9h0M518.6 334.1h0M523.9 350.3h0M524.8 342.6h0M522.7 339.2h0M524.1 350h0M522.1 349.2h0M513.3 311.7h0M525.5 348.8h0M521.1 309.6h0M523.5 348.2h0M522.2 345h0M515.8 330.5h0M522.7 332.5h0M525.3 341.4h0M525.5 348.4h0M522.5 346.3h0M523.4 348.1h0M498.1 322.1h0M525.3 347.9h0M525.4 347.8h0M525.1 344.9h0M523.3 331.9h0M525.3 349.9h0M522.9 336.4h0M525.4 349.2h0M520.9 340h0M522.8 338h0M524.1 346.2h0M511.7 340.7h0M524.9 346.3h0M525.4 349.9h0M524.9 345.8h0M520.9 340.9h0M525.5 349.1h0M524.3 340.5h0M525.7 350.7h0M523.6 315.6h0M519.5 346.4h0M516.8 328.7h0M518.8 317.8h0M514.2 335.7h0M524.9 349.1h0M524.5 348h0M521.6 315.1h0M523.4 343.6h0M521.6 348.3h0M525 350.5h0M524.3 346h0M519.9 328.8h0M521.7 331.2h0M524.3 345.8h0M525.5 350.4h0M522.5 348.1h0M507.2 329.3h0M523.6 349.3h0M520.1 347h0M499.3 336.1h0M524.9 349.5h0M513 340.4h0M516 303.2h0M519.2 332.3h0M524.4 346.8h0M521.7 339.8h0M518.5 347.5h0M523.3 342.3h0M524.7 348.5h0M523.5 341.3h0M511.2 332.9h0M515.4 345.3h0M517.7 338.8h0M517.2 319.2h0M520.2 333.1h0M515.3 344.5h0M525.5 347.4h0M517.1 312.4h0M522.3 332.4h0M523.9 314.1h0M509.9 339.2h0M524.7 349.9h0M519 316.8h0M523.4 345.5h0M522 347.1h0M513.1 319.3h0M525.6 348.9h0M520.3 343.8h0M524.8 338.3h0M522.1 330.7h0M521.4 347.7h0M523.6 336.6h0M523.8 328.1h0M523.8 343.4h0M524.4 345h0M525.4 346.5h0M521.6 346.5h0M524 344.8h0M523.2 340.4h0M519.5 326.3h0M514.7 307.3h0M520.8 344.8h0M519.4 347.1h0M510.7 331.8h0M514.7 318.1h0M514.1 310.8h0M522.3 343.8h0M522.3 323.8h0M500.8 279.2h0M521.5 340.8h0M513.7 338.8h0M522.2 342.5h0M522 336.2h0M523.5 348.4h0M519.3 344.9h0M516.6 321.1h0M525.4 348.2h0M518.2 318.2h0M524.4 341.3h0M522.9 330.5h0M513.4 332.5h0M525.6 350.6h0M525.1 348.1h0M525.1 345.7h0M521.6 337.3h0M521.6 345.9h0M524.3 347.8h0M521.2 336.2h0M522.4 347.5h0M517.2 339.9h0M517.5 334.5h0M523.7 344.9h0M524.8 336.4h0M523.8 347.1h0M524 349.8h0M520.8 331h0M518.4 339.8h0M524.4 342.6h0M524 346.4h0M523.6 344.3h0M523.2 348.7h0M525.2 348.8h0M525.7 350.7h0M518.3 339.2h0M523.6 346.3h0M523.5 342.9h0M523.8 347.3h0M524.5 330.8h0M516.3 297.5h0M523 332.5h0M518.8 332.7h0M525.3 350.5h0M511.3 316.7h0M522.2 345.4h0M524.4 348.6h0M519.4 344.8h0M525.6 350.1h0M523.8 346.6h0M525.5 349.7h0M525.1 347.7h0M521.1 347.8h0M508 312.5h0M521 331.3h0M514.6 332.7h0M523 341.3h0M521 345.8h0M523.9 349.4h0M522.9 341.5h0M506.3 318.2h0M519.1 340.5h0M523 337.3h0M486.2 325.3h0M518.5 308.4h0M522.7 344h0M508.9 335.5h0M519.1 333.7h0M523.8 334.8h0M524.1 346.5h0M524.6 344.8h0M525.1 346.8h0M524.3 346.3h0M524.8 347.2h0M525.7 350.8h0M517.2 327.4h0M522.6 339.5h0M518.5 344.5h0M523.1 348.5h0M523.8 343.9h0M523.7 337.4h0M524.7 349.3h0M500.2 298.7h0M516.8 335.9h0M523.9 337.5h0M524.3 340.5h0M517.9 324.4h0M524.6 349.1h0M523.3 342.6h0M520.3 343h0M524.8 349.7h0M522.8 344.6h0M524 349.2h0M525.5 349.4h0M525.6 349.7h0M518.5 333.6h0M491.6 333h0M524.2 345.8h0M525 350.1h0M523.9 341.1h0M522.2 345.1h0M524.8 344.8h0M523.7 348.5h0M522.8 328h0M525.2 347.1h0M519.9 335h0M523.4 349.7h0M524.9 340.3h0M519.4 346h0M524.9 350.2h0M523.3 344.7h0M524.1 334.7h0M525 346.1h0M519.1 333.4h0M525 339.7h0M521.2 345.9h0M518.4 344.6h0M525.4 348.4h0M524.5 341.3h0M521.6 342.5h0M523.8 339.3h0M525.5 350.3h0M525.4 349.4h0M521.1 324.2h0M519.5 323.8h0M524 347.5h0M521.1 347.2h0M524.5 346.6h0M521.3 345.9h0M515.7 340.1h0M519.8 339.4h0M525.5 348.8h0M525.4 349.1h0M523.9 343.6h0M521.6 341.2h0M516.8 339.4h0M524.7 345.8h0M518.5 341.2h0M523.9 349.4h0M509.9 339.7h0M525.4 349.5h0M523.5 349.1h0M517.8 340.1h0M525.3 349.2h0M521.7 337.3h0M513.8 339.9h0M525.2 349.6h0M514.6 326.8h0M524.4 340.3h0M522 330.7h0M506.3 286.3h0M518.8 329.2h0M524.7 338.3h0M525.5 349h0M525 345h0M523.9 344.6h0M519.9 334.6h0M524.8 347.2h0M525.2 349.8h0M524.4 346h0M522.3 339.3h0M513.4 336.2h0M512.3 343.4h0M524.4 344.1h0M521 327.2h0M522.5 346.5h0M524.8 348h0M524.6 344.5h0M523.4 345.5h0M506.5 345.1h0M524.2 346.7h0M523.1 337.3h0M517.8 346.7h0M502.9 335.9h0M521.4 338.2h0M524.4 341h0M524.4 335.5h0M523 342.3h0M519.1 339.4h0M525.1 350.4h0M522.6 348.4h0M524 336.4h0M522.6 338.3h0M523.4 345.6h0M525.3 348.4h0M525.3 350.3h0M522.6 327.8h0M523.4 330.6h0M524.8 350.3h0M523.8 349.4h0M525 347h0M523.2 331.7h0M523 344.3h0M523.4 337.2h0M519.3 345.5h0M525.6 349.7h0M524.3 337.2h0M514.9 334.9h0M525.1 345.3h0M523.7 340.4h0M519.2 340.7h0M521 334.3h0M517.8 338.1h0M524.7 343.4h0M525 349.5h0M519.2 313.4h0M511.9 319h0M525.1 346.5h0M519.3 349.1h0M521.4 343.8h0M521.6 337.8h0M523.2 344h0M523.9 343.2h0M524 316.9h0M524.4 342.1h0M524.5 343.4h0M510.5 320h0M524.2 346.3h0M525.5 349.2h0M511.7 342.9h0M522.9 343.8h0M525.7 350h0M519.4 346.8h0M523.5 345.4h0M511.2 345.6h0M506.4 315.8h0M524.5 337.2h0M522.8 346.9h0M524.7 348.2h0M519.6 317.4h0M524.9 348.9h0M509.7 310.3h0M525 347.8h0M521.8 319.5h0M516.5 328.4h0M524.7 348.3h0M524.2 338.1h0M524.5 349.5h0M524.6 349h0M505.5 333.2h0M524.4 349.1h0M513.9 296.5h0M525.2 350h0M524.5 341.9h0M525 349.8h0M522.3 299.3h0M512 345.6h0M525.3 349.5h0M514.7 323h0M492.4 282h0M519 342.4h0M523.1 348.8h0M524.3 349.4h0M522.2 336.9h0M525.6 350.4h0M522.5 339.4h0M524.2 329.9h0M523.6 336.7h0M516.1 339.2h0M525.3 349.7h0M522.1 327.2h0M516 328h0M516.3 319.8h0M524.9 348.1h0M524.9 345h0M525.1 348.7h0M524.7 347.9h0M525.1 350.4h0M504.9 324.5h0M515.2 340.3h0M524.7 348.2h0M522.7 347.2h0M518.9 341.8h0M525.5 347.8h0M519.2 323h0M525.1 346.5h0M525.2 348.1h0M522.7 348.5h0M521.9 348h0M524.5 327.2h0M524.9 346.7h0M523.8 342.2h0M520.1 317.9h0M523.8 349.5h0M523.2 344.9h0M521.3 341.6h0M524.6 347.4h0M521.5 343.7h0M523.9 343.9h0M525.7 350.6h0M519.5 326.1h0M525 346.5h0M524.3 335.1h0M525.2 344.2h0M525.6 350h0M523.2 339.5h0M514.5 341.4h0M523.3 335.5h0M524.2 345.5h0M513.6 324.6h0M521 302.5h0M525.2 348.6h0M519.3 342.5h0M509.6 333.7h0M522.9 348.7h0M524.8 339.5h0M525.1 348.7h0M525.1 350.5h0M511.9 326.6h0M514.9 329.1h0M525.4 350h0M524.9 345.8h0M525.7 350.7h0M524.7 349.4h0M523.6 349.6h0M523.1 349.6h0M510.3 338.9h0M517.3 343.7h0M516.7 340.5h0M512.2 347h0M520.4 338.6h0M524.9 345.7h0M519.3 333.8h0M525.7 350.7h0M523.7 347.1h0M519.1 349h0M525 345.7h0M518.5 335h0M524.6 350.1h0M525.6 350.2h0M525.4 350.6h0M523.7 342.9h0M519.2 309.6h0M521.8 344.5h0M520 341.9h0M523.1 335.1h0M525.2 347.3h0M523.3 339.4h0M524.3 346.7h0M518.2 336.4h0M523.9 346.5h0M522.6 336h0M518.4 333h0M519 337.7h0M522 335.7h0M509.6 346.1h0M524.4 347.9h0M517.7 337.1h0M525.7 350.8h0M525.7 350.5h0M523 344.4h0M523.1 342.8h0M520.5 327h0M524 344.7h0M519.9 316.3h0M524.4 343.7h0M518 327.3h0M524.7 347.6h0M519.6 344.4h0M522.4 320.5h0M524.6 347.9h0M517.5 342.8h0M522.1 347.8h0M521.3 335.9h0M522.9 348.9h0M518.1 335.1h0M525.5 349.9h0M524.5 349.9h0M521 341.2h0M522.7 349.5h0M524.8 349.8h0M515.5 336.6h0M516.5 340.5h0M524.1 344.8h0M518.5 337.7h0M522.4 345.9h0M523.8 339.1h0M520.6 348.2h0M523.3 346.8h0M525.4 349.8h0M497.2 336.7h0M519.3 317.4h0M517.5 345.3h0M520.7 323.6h0M525.7 350.8h0M522 345.1h0M525.5 350.2h0M517.4 337.1h0M516.7 324.1h0M515.2 309.1h0M524.7 347.9h0M524.7 337.2h0M525.3 350.2h0M520.6 340.7h0M524.6 348.5h0M524.8 350.3h0M524.3 341.2h0M503.9 331.2h0M524 339.2h0M512.1 341.9h0M515.1 341.3h0M517.4 347.4h0M515.6 334.3h0M522.6 343.5h0M517.5 342.5h0M525.6 350.2h0M514 332h0M523.5 341.7h0M508.7 316h0M513.9 339.6h0M511 324.9h0M525 346h0M525 338.9h0M524.6 349.9h0M525.5 349h0M525.5 348.7h0M523.9 341.4h0M522.4 335.2h0M524.7 348.9h0M524.6 344.8h0M523.9 349.5h0M525.1 349.8h0M522.6 327.2h0M512.4 345.8h0M525.3 347.5h0M522.8 341.4h0M520.3 348.4h0M525.1 349h0M525.2 345.3h0M525.1 348.8h0M521.2 344.4h0M524.8 345.9h0M523.5 324.4h0M524.9 348.1h0M525.5 347.4h0M524.2 347.7h0M519 337.3h0M525.4 350.1h0M524.2 338.9h0M521.1 341.3h0M510.4 331h0M523.6 348.4h0M525.1 348.4h0M524.1 347.6h0M523.7 348.6h0M517.9 340.5h0M523.3 339.3h0M511.6 334.3h0M522.2 346.6h0M523.2 345.6h0M520.4 329.5h0M521.1 331.7h0M525.4 348.9h0M523.7 348.7h0M522.2 337.5h0M516.9 318h0M506 331.9h0M523.8 344h0M509.3 344.3h0M525 343.3h0M521.2 337.4h0M517.1 345.1h0M525.2 344.6h0M522.7 349.5h0M524 347.8h0M515.3 346.5h0M506.7 334.9h0M519.4 345.9h0M524.3 343.5h0M524.4 343.8h0M525.2 350.5h0M522.6 332.1h0M513.6 327.1h0M519.7 320.2h0M512.7 311h0M518.1 335.8h0M523.5 337.6h0M523.5 340.4h0M524 348.8h0M525.5 350.7h0M525.2 349.3h0M521.3 348.9h0M525.4 349.7h0M524.6 338.2h0M515 315.6h0M524.4 346h0M519.9 327.6h0M521.6 312.5h0M523.1 342.4h0M522.7 339.2h0M525.6 350.4h0M520.8 316.4h0M523.8 343.6h0M525.3 344.9h0M523 343.1h0M517.6 343.4h0M525.7 350.8h0M522.7 348.8h0M520 317.8h0M518.9 345.9h0M520.4 334.4h0M523.6 340.6h0M519.3 345.6h0M518.8 346h0M517.8 329.9h0M523.7 348.4h0M515.9 343.1h0M520.6 349.1h0M523.1 334.4h0M524.6 345.1h0M523.2 344.3h0M519 348.1h0M524.9 344.8h0M522.6 344h0M519.6 343.7h0M508.4 303.1h0M524.3 346.3h0M512.3 337.1h0M518.9 336.3h0M524.9 348.9h0M510.5 346.3h0M513.6 328.2h0M521 334.9h0M515.5 327.5h0M524.2 345.1h0M524.4 349.6h0M521.8 334h0M525.2 337.5h0M524.3 348.2h0M523.5 340.9h0M525.5 349.9h0M520.8 340.4h0M525.2 340.6h0M525.6 348.9h0M524.6 346.9h0M525.4 348.2h0M525 349.5h0M522.6 343.6h0M524.9 347.2h0M522.7 347.6h0M524.1 327h0M524.3 345.8h0M509 315.8h0M512 332.5h0M509.8 307.9h0M523.3 348.4h0M520.8 345.5h0M520 326.1h0M514 313.3h0M523.2 349.7h0M516.9 345.5h0M525 349.2h0M518.9 333.4h0M514.3 319.9h0M517.8 347h0M524.4 344.3h0M519.9 331.1h0M516 342.6h0M524.2 344.8h0M524.2 338.1h0M524.5 346.7h0M520.7 342.6h0M523.8 344.7h0M520.2 347.9h0M523.9 343.8h0M524.8 345.2h0M523.2 342.9h0M524.7 338.8h0M523.6 337.6h0M519.2 317h0M524.7 345.5h0M517.6 326.4h0M523.2 349.2h0M520.6 343h0M514.5 326.7h0M518.4 324h0M525.3 348.5h0M525.5 348.9h0M517.5 330.6h0M523.2 340h0M510.9 344.6h0M524.3 348.5h0M525.5 350.6h0M523.1 331h0M519.9 326.4h0M525 347.4h0M524.5 327.3h0M522.2 340.2h0M524.2 350h0M525.5 350.1h0M525.5 350.4h0M517.3 336h0M523.3 345.7h0M503.7 327.2h0M523.8 339.7h0M513.6 324.5h0M524.8 345.4h0M522.9 347.7h0M524.4 349h0M523.3 345.3h0M524.9 348.8h0M522.7 341.7h0M523.3 346h0M521.6 345.7h0M525.3 350.3h0M522.6 335h0M517.5 334.3h0M522.5 348.6h0M521.5 338.2h0M517.6 321.8h0M524.9 350h0M512.6 346.8h0M520.9 325.8h0M525.3 347.1h0M525.1 346h0M525.7 350.7h0M524.3 342.9h0M499.1 294.2h0M524.3 346.4h0M519.5 331.6h0M511.8 292.5h0M509.5 337.5h0M507.4 314.6h0M519.6 335.4h0M525.1 349.7h0M525.4 346.3h0M525 346.2h0M524 348.7h0M517.8 340.2h0M525 346.6h0M525.1 342.1h0M525 344.9h0M523.9 349.6h0M525 350.2h0M516.9 336.4h0M519.8 322.5h0M523.8 345.6h0M520.8 338.7h0M523.2 341h0M521.5 327.5h0M525 346.9h0M521.2 330.3h0M518.7 322.9h0M517.1 335.3h0M525.2 349.1h0M524.9 347h0M525.2 347h0M524.8 350.5h0M522.3 348h0M520.4 342.9h0M524.6 349.6h0M521.6 333.2h0M520.9 347h0M515.6 338h0M519.8 340.8h0M518.4 340.2h0M523.6 331.3h0M522.9 340.1h0M524.2 346.5h0M523.9 348.9h0M525 338.4h0M521.3 334.7h0M521.5 334.6h0M524.4 349h0M522.7 337.7h0M515.5 310.3h0M523.9 343.9h0M524.7 343.1h0M524.6 348.7h0M525.6 349.9h0M507.4 328.1h0M521.7 347.3h0M523.4 326.5h0M523.7 331.3h0M507.9 344.9h0M524.2 339.6h0M524.2 341.7h0M516 343.3h0M524.7 350.5h0M525.3 350h0M518.5 336.1h0M521.6 332.6h0M523.4 332.5h0M518.8 333.2h0M524.8 349h0M522.2 325.8h0M525.3 350.6h0M525.2 346.9h0M524.9 346.3h0M523.5 349.5h0M525.3 349.2h0M517.9 338.3h0M522.9 339.3h0M522.5 345.3h0M522.3 348.4h0M524.4 336.3h0M509.5 308.6h0M517.4 338h0M521.2 329.8h0M507.6 318h0M523.6 332.4h0M524.9 345.3h0M525 350.3h0M523.4 348.6h0M525.3 348.2h0M524.3 347.7h0M525.5 348.2h0M506.8 311.2h0M524.4 337.6h0M520.5 345.1h0M525.3 341.6h0M525.2 346h0M519.1 347.8h0M525.1 345.4h0M523.9 349.1h0M503.2 335h0M524.4 345.7h0M525.4 348h0M525.3 350h0M504.7 279.4h0M525.1 341h0M519.5 308.3h0M525 348.8h0M520.7 337.2h0M525.6 348.9h0M524 350h0M524.7 350.4h0M524.8 349.6h0M516.3 343.9h0M516.1 325.3h0M524.8 344.7h0M519 340.5h0M522 343.1h0M524.8 348.5h0M525.1 348.3h0M513.8 341.7h0M523.5 343.6h0M522.1 342.7h0M525 349h0M525.3 349.4h0M520.7 319.5h0M495.1 318.7h0M523.9 345.8h0M522.1 326.6h0M522.9 329.1h0M524.8 345h0M521.6 328.4h0M521 329.7h0M525.5 350.7h0M522.4 342h0M525.6 350.7h0M523 348.2h0M516.8 345.4h0M522.7 303.1h0M516.5 347.2h0M522.8 341.9h0M525.1 342.9h0M523.9 344.7h0M523.9 349.6h0M521.3 344.7h0M523.7 348.2h0M525.5 348h0M517.2 332.3h0M524.6 347.2h0M507.3 345.4h0M520.2 316.4h0M515.6 336h0M521.2 343.5h0M525.3 349.4h0M524.6 337.8h0M512.4 345.7h0M523.5 347.5h0M525.1 349.2h0M525.6 349.7h0M521.9 318.2h0M511.1 344.5h0M524.6 342h0M524.3 350.2h0M519.1 346.2h0M509.9 341.9h0M522.8 342.7h0M517.8 346.6h0M525.1 345.8h0M517.1 326.3h0M521.2 348.7h0M523.7 349.6h0M524.3 350.4h0M510.8 328.5h0M512.6 343.5h0M517.3 347.6h0M522.2 347.7h0M522.7 299.6h0M509.3 308.3h0M518.7 343.9h0M522 325.5h0M525.3 349h0M517.5 342.2h0M525.6 349.9h0M521.5 333.9h0M524.3 346.2h0M518.3 337.4h0M511.9 326.7h0M525.7 350.8h0M506.4 312.6h0M514.3 337.3h0M524.3 349.2h0M525.7 350.7h0M513.6 328.5h0M524.7 350h0M525.5 350.6h0M524.5 343.8h0M524.8 341.8h0M533.7 337.4h0M518.8 294.6h0M559.4 304.4h0M552.8 332.7h0M528.6 255.4h0M520.9 304.1h0M536.3 334.5h0M522.5 312h0M536.3 311.4h0M541.4 333.6h0M550.4 318.5h0M500.5 333.4h0M544.4 319.7h0M509.1 321.4h0M548.2 340.9h0M511.6 323.7h0M502.2 330.6h0M530.3 317.3h0M533.6 283.7h0M545.6 304.1h0M507.3 337.3h0M554.5 327.6h0M498.6 336.4h0M514.8 341.1h0M512.3 328.4h0M489 334.7h0M566.9 323.3h0M535.9 296.8h0M502.7 337.7h0M543.6 325.6h0M523.8 328.8h0M561.9 299.2h0M519.3 325.1h0M552.9 337.2h0M471.7 249.6h0M439.1 280.9h0M471.4 284.6h0M452.1 297.6h0M441.1 304.9h0M486.2 293.9h0M482.4 312.7h0M486.8 317.6h0M474.6 338.7h0M511.4 229.7h0M531.6 230.2h0M533.5 230h0M518 239.8h0M537.4 246.2h0M605.1 288.7h0M600.7 308.4h0M616.7 314.1h0M601.3 317.6h0M591.5 327.2h0M583.4 291h0M589.2 291h0M592.1 304h0M583.4 307.8h0M580.5 337.3h0M574.7 276.5h0M573.3 285.2h0M545.5 228h0M519.5 263h0" stroke="#d9d9d9" stroke-width="2.4" stroke-linecap="round" fill="none"/>
<path d="M499.7 150V351.8M550.1 150V351.8" stroke="#a8a8a8" stroke-width="0.8" stroke-dasharray="0.9 1.7" fill="none"/>
<path d="M373.7 271.3H676" stroke="#a8a8a8" stroke-width="0.8" stroke-dasharray="0.9 1.7" fill="none"/>
<path d="M373.7 150.6V351.8M365.6 351.8H676.7M365.6 311.6H373.7M365.6 271.3H373.7M365.6 231.1H373.7M365.6 190.8H373.7M365.6 150.6H373.7M373.7 351.8V359.9M424.1 351.8V359.9M474.5 351.8V359.9M524.9 351.8V359.9M575.3 351.8V359.9M625.7 351.8V359.9M676.1 351.8V359.9" stroke="#222" stroke-width="1.3" fill="none"/>
<path d="M365.6 150.6H374.2" stroke="#222" stroke-width="1.3" fill="none"/>
<text x="364" y="356.9" font-size="15" text-anchor="end" fill="#151515">0</text>
<text x="364" y="316.7" font-size="15" text-anchor="end" fill="#151515">1</text>
<text x="364" y="276.4" font-size="15" text-anchor="end" fill="#151515">2</text>
<text x="364" y="236.2" font-size="15" text-anchor="end" fill="#151515">3</text>
<text x="364" y="195.9" font-size="15" text-anchor="end" fill="#151515">4</text>
<text x="364" y="155.7" font-size="15" text-anchor="end" fill="#151515">5</text>
<text x="373.4" y="375.3" font-size="15" text-anchor="middle" fill="#151515">-6</text>
<text x="423.8" y="375.3" font-size="15" text-anchor="middle" fill="#151515">-4</text>
<text x="474.2" y="375.3" font-size="15" text-anchor="middle" fill="#151515">-2</text>
<text x="524.9" y="375.3" font-size="15" text-anchor="middle" fill="#151515">0</text>
<text x="575.3" y="375.3" font-size="15" text-anchor="middle" fill="#151515">2</text>
<text x="625.7" y="375.3" font-size="15" text-anchor="middle" fill="#151515">4</text>
<text x="676.1" y="375.3" font-size="15" text-anchor="middle" fill="#151515">6</text>
<text x="526" y="394" font-size="13.6" font-weight="bold" text-anchor="middle" fill="#151515">log<tspan font-size="9.2" dy="2.6">2</tspan><tspan dy="-2.6">(fold change)</tspan></text>
<text transform="translate(346.6 251.8) rotate(-90)" font-size="13.2" font-weight="bold" text-anchor="middle" fill="#151515">-logP</text>
<rect x="557.8" y="215.1" width="4.4" height="4.4" fill="#f23c4a"/>
<rect x="572.8" y="209.8" width="4.4" height="4.4" fill="#f23c4a"/>
<rect x="572.3" y="260.3" width="4.4" height="4.4" fill="#f23c4a"/>
<path d="M574.5 193L578.9 197.3L574.5 201.6L570.1 197.3Z" fill="#1fb51f"/>
<text x="583.4" y="203.4" font-size="19.2" fill="#151515">MDM2</text>
</svg>
</body></html>
